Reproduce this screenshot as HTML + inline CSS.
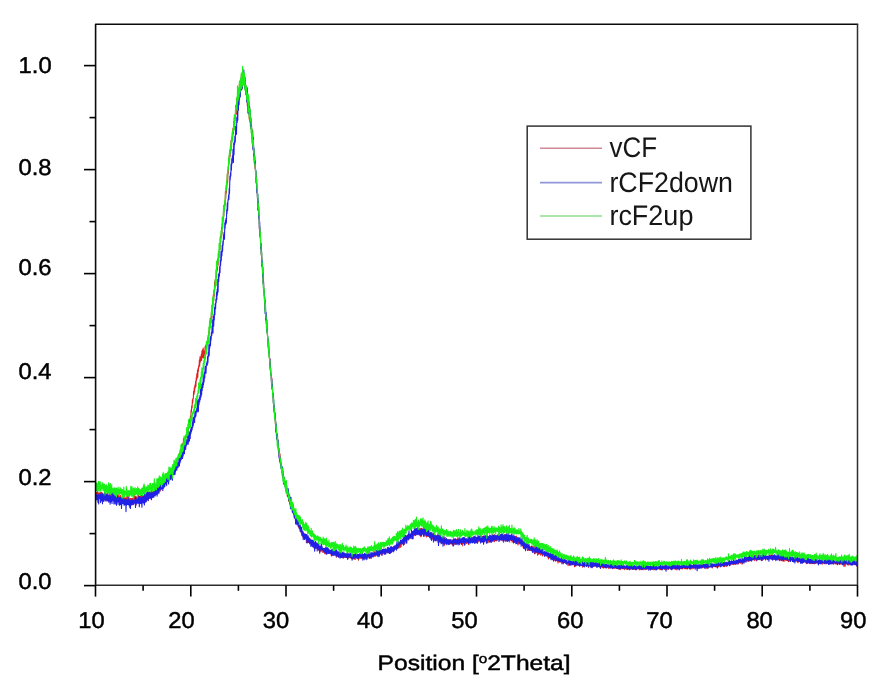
<!DOCTYPE html>
<html><head><meta charset="utf-8"><title>XRD pattern</title>
<style>
html,body{margin:0;padding:0;background:#fff;}
body{width:884px;height:686px;overflow:hidden;}
svg{display:block;text-rendering:geometricPrecision;}
text{font-family:"Liberation Sans",Arial,sans-serif;fill:#000;stroke:#000;stroke-width:0.45px;}
svg{filter:blur(0.6px);}
text.l,.lg text{fill:#161616;stroke:none;}
</style></head><body>
<svg width="884" height="686" viewBox="0 0 884 686">
<rect width="884" height="686" fill="#fff"/>

<g fill="none" stroke-width="1.1" stroke-linejoin="round">
<polyline stroke="#e02020" points="95.5,495.2 95.8,493.6 96.1,496.3 96.5,492.4 96.8,496.6 97.1,492.3 97.4,495.7 97.7,491.5 98.0,497.3 98.4,493.0 98.7,496.8 99.0,493.0 99.3,496.5 99.6,492.7 99.9,496.2 100.3,492.6 100.6,499.1 100.9,494.8 101.2,499.8 101.5,492.2 101.9,500.1 102.2,492.8 102.5,499.0 102.8,493.8 103.1,497.7 103.4,494.2 103.8,501.0 104.1,493.7 104.4,497.0 104.7,494.4 105.0,499.7 105.3,493.4 105.7,498.7 106.0,493.9 106.3,500.0 106.6,494.0 106.9,497.4 107.3,494.2 107.6,498.9 107.9,496.0 108.2,498.2 108.5,495.3 108.8,500.0 109.2,495.6 109.5,500.4 109.8,493.0 110.1,499.1 110.4,494.7 110.7,498.9 111.1,491.4 111.4,499.6 111.7,494.0 112.0,497.6 112.3,495.7 112.7,499.3 113.0,495.3 113.3,499.6 113.6,496.4 113.9,500.8 114.2,496.1 114.6,499.5 114.9,496.3 115.2,499.7 115.5,494.5 115.8,499.9 116.1,496.3 116.5,500.5 116.8,495.1 117.1,501.0 117.4,495.3 117.7,500.8 118.1,493.7 118.4,500.5 118.7,496.4 119.0,501.6 119.3,496.2 119.6,500.5 120.0,497.0 120.3,501.0 120.6,495.3 120.9,501.0 121.2,497.8 121.5,501.4 121.9,498.0 122.2,501.5 122.5,496.8 122.8,500.9 123.1,498.0 123.5,503.4 123.8,498.3 124.1,501.6 124.4,498.1 124.7,502.3 125.0,497.4 125.4,502.0 125.7,498.4 126.0,502.9 126.3,499.6 126.6,504.8 126.9,495.3 127.3,502.2 127.6,497.7 127.9,503.2 128.2,496.0 128.5,502.7 128.9,499.1 129.2,502.2 129.5,500.0 129.8,501.7 130.1,498.4 130.4,503.2 130.8,498.7 131.1,503.5 131.4,498.5 131.7,501.9 132.0,498.5 132.3,501.1 132.7,498.5 133.0,502.9 133.3,500.2 133.6,501.7 133.9,498.0 134.3,501.9 134.6,495.6 134.9,502.8 135.2,498.6 135.5,504.5 135.8,496.3 136.2,504.9 136.5,497.0 136.8,501.8 137.1,497.1 137.4,499.8 137.7,494.7 138.1,502.2 138.4,495.1 138.7,500.2 139.0,498.0 139.3,499.9 139.7,496.2 140.0,502.0 140.3,496.0 140.6,499.7 140.9,495.4 141.2,501.0 141.6,495.1 141.9,501.5 142.2,496.1 142.5,500.8 142.8,496.4 143.1,500.4 143.5,495.9 143.8,499.1 144.1,496.8 144.4,499.3 144.7,495.3 145.1,501.2 145.4,494.3 145.7,500.7 146.0,494.5 146.3,499.1 146.6,494.6 147.0,499.8 147.3,493.2 147.6,498.2 147.9,493.6 148.2,500.8 148.5,493.2 148.9,496.7 149.2,494.6 149.5,497.7 149.8,494.4 150.1,497.0 150.5,492.8 150.8,498.3 151.1,490.9 151.4,497.6 151.7,490.6 152.0,495.9 152.4,493.0 152.7,495.7 153.0,491.8 153.3,496.0 153.6,491.2 153.9,494.3 154.3,490.8 154.6,495.0 154.9,490.0 155.2,493.3 155.5,488.4 155.9,494.6 156.2,487.7 156.5,492.6 156.8,488.9 157.1,491.5 157.4,486.1 157.8,491.0 158.1,486.9 158.4,489.5 158.7,484.4 159.0,491.4 159.3,485.2 159.7,488.4 160.0,484.0 160.3,491.0 160.6,482.8 160.9,488.6 161.2,480.8 161.6,488.2 161.9,482.5 162.2,485.7 162.5,481.3 162.8,488.1 163.2,478.7 163.5,485.0 163.8,481.0 164.1,483.8 164.4,480.7 164.7,483.5 165.1,477.3 165.4,481.9 165.7,477.1 166.0,484.0 166.3,476.6 166.6,479.9 167.0,476.9 167.3,480.9 167.6,475.8 167.9,479.3 168.2,473.2 168.6,477.7 168.9,473.6 169.2,478.1 169.5,473.7 169.8,478.9 170.1,470.9 170.5,475.9 170.8,471.3 171.1,475.1 171.4,468.7 171.7,474.0 172.0,469.2 172.4,472.9 172.7,469.3 173.0,471.9 173.3,465.5 173.6,469.0 174.0,463.7 174.3,470.4 174.6,462.4 174.9,473.2 175.2,463.4 175.5,467.7 175.9,463.4 176.2,466.5 176.5,459.7 176.8,464.7 177.1,459.9 177.4,461.2 177.8,458.3 178.1,458.8 178.4,455.3 178.7,459.8 179.0,454.2 179.4,457.9 179.7,452.7 180.0,456.1 180.3,449.7 180.6,454.1 180.9,449.7 181.3,450.2 181.6,445.0 181.9,452.5 182.2,443.3 182.5,448.5 182.8,444.6 183.2,446.7 183.5,438.3 183.8,443.9 184.1,440.7 184.4,441.9 184.8,437.3 185.1,440.7 185.4,437.2 185.7,441.2 186.0,435.1 186.3,436.7 186.7,431.0 187.0,436.8 187.3,431.9 187.6,437.4 187.9,427.9 188.2,432.5 188.6,426.0 188.9,428.1 189.2,424.7 189.5,424.8 189.8,419.1 190.2,419.5 190.5,415.7 190.8,417.5 191.1,409.9 191.4,411.9 191.7,405.9 192.1,407.9 192.4,399.8 192.7,402.9 193.0,398.2 193.3,398.7 193.6,391.3 194.0,394.5 194.3,387.5 194.6,391.9 194.9,385.1 195.2,387.9 195.6,381.4 195.9,386.5 196.2,377.7 196.5,380.6 196.8,373.9 197.1,378.4 197.5,370.4 197.8,377.1 198.1,368.0 198.4,371.3 198.7,365.8 199.0,367.3 199.4,359.9 199.7,366.0 200.0,356.8 200.3,362.2 200.6,357.1 201.0,360.6 201.3,354.2 201.6,360.2 201.9,351.0 202.2,357.5 202.5,349.9 202.9,357.6 203.2,348.0 203.5,354.1 203.8,351.0 204.1,358.5 204.4,350.8 204.8,354.4 205.1,346.6 205.4,351.7 205.7,345.3 206.0,352.2 206.4,344.4 206.7,349.6 207.0,342.2 207.3,344.8 207.6,338.6 207.9,339.5 208.3,335.0 208.6,336.7 208.9,331.5 209.2,332.8 209.5,326.7 209.8,328.5 210.2,318.6 210.5,324.9 210.8,317.8 211.1,323.0 211.4,312.4 211.8,317.7 212.1,305.0 212.4,312.0 212.7,301.1 213.0,304.6 213.3,294.7 213.7,300.2 214.0,290.5 214.3,295.9 214.6,281.7 214.9,288.0 215.2,279.9 215.6,285.7 215.9,276.6 216.2,277.3 216.5,269.3 216.8,271.5 217.2,262.4 217.5,270.0 217.8,258.7 218.1,265.0 218.4,253.8 218.7,258.3 219.1,250.8 219.4,253.4 219.7,243.9 220.0,249.6 220.3,236.6 220.6,241.9 221.0,234.5 221.3,237.2 221.6,227.3 221.9,234.7 222.2,223.6 222.6,226.5 222.9,219.4 223.2,220.4 223.5,211.6 223.8,215.8 224.1,205.1 224.5,210.7 224.8,201.5 225.1,205.4 225.4,191.3 225.7,198.6 226.0,188.1 226.4,193.0 226.7,182.8 227.0,184.5 227.3,173.9 227.6,182.6 228.0,169.9 228.3,173.4 228.6,162.2 228.9,164.0 229.2,155.9 229.5,160.2 229.9,150.0 230.2,156.1 230.5,145.1 230.8,148.4 231.1,140.2 231.4,144.8 231.8,138.3 232.1,139.3 232.4,132.3 232.7,136.4 233.0,128.0 233.4,133.7 233.7,121.3 234.0,127.5 234.3,117.5 234.6,127.6 234.9,116.3 235.3,119.3 235.6,106.0 235.9,114.0 236.2,105.0 236.5,114.1 236.8,98.8 237.2,105.1 237.5,95.9 237.8,101.3 238.1,90.7 238.4,97.3 238.8,88.8 239.1,93.1 239.4,83.8 239.7,91.4 240.0,85.5 240.3,90.6 240.7,81.5 241.0,86.2 241.3,74.9 241.6,87.6 241.9,76.5 242.2,88.8 242.6,78.5 242.9,84.5 243.2,71.7 243.5,83.3 243.8,76.8 244.2,85.1 244.5,79.6 244.8,87.6 245.1,79.9 245.4,90.8 245.7,84.5 246.1,94.7 246.4,88.8 246.7,100.6 247.0,88.3 247.3,105.5 247.6,97.2 248.0,104.5 248.3,101.2 248.6,108.2 248.9,105.9 249.2,119.0 249.6,107.8 249.9,121.7 250.2,112.0 250.5,126.8 250.8,117.4 251.1,129.1 251.5,125.1 251.8,134.6 252.1,131.2 252.4,142.9 252.7,130.3 253.0,148.3 253.4,140.8 253.7,155.5 254.0,150.6 254.3,160.1 254.6,155.2 255.0,168.6 255.3,162.3 255.6,176.0 255.9,172.4 256.2,183.3 256.5,178.1 256.9,189.6 257.2,190.4 257.5,198.2 257.8,198.1 258.1,210.4 258.4,208.3 258.8,214.7 259.1,214.1 259.4,229.5 259.7,226.3 260.0,236.9 260.4,236.1 260.7,246.8 261.0,244.0 261.3,255.0 261.6,253.1 261.9,265.6 262.3,264.3 262.6,272.6 262.9,272.5 263.2,283.3 263.5,280.8 263.8,291.8 264.2,290.8 264.5,299.1 264.8,299.7 265.1,310.4 265.4,308.1 265.8,319.3 266.1,315.7 266.4,323.4 266.7,319.3 267.0,332.3 267.3,332.4 267.7,339.2 268.0,340.0 268.3,347.1 268.6,345.2 268.9,354.0 269.2,352.3 269.6,361.4 269.9,358.4 270.2,367.7 270.5,367.8 270.8,375.0 271.2,374.3 271.5,382.2 271.8,377.7 272.1,388.7 272.4,387.6 272.7,395.4 273.1,395.3 273.4,402.8 273.7,403.3 274.0,409.8 274.3,409.0 274.6,415.4 275.0,413.1 275.3,423.0 275.6,420.9 275.9,429.0 276.2,429.0 276.6,437.2 276.9,433.7 277.2,440.3 277.5,435.1 277.8,445.0 278.1,443.5 278.5,452.2 278.8,448.0 279.1,456.6 279.4,453.3 279.7,457.8 280.0,453.9 280.4,464.3 280.7,462.0 281.0,466.3 281.3,463.3 281.6,471.0 282.0,468.8 282.3,472.7 282.6,472.3 282.9,477.6 283.2,473.7 283.5,479.0 283.9,477.2 284.2,482.8 284.5,478.4 284.8,484.8 285.1,483.8 285.4,486.6 285.8,482.8 286.1,491.7 286.4,486.7 286.7,490.8 287.0,488.3 287.3,496.1 287.7,490.4 288.0,495.1 288.3,491.9 288.6,501.2 288.9,496.0 289.3,501.5 289.6,498.0 289.9,503.5 290.2,501.1 290.5,506.0 290.8,497.4 291.2,505.7 291.5,504.6 291.8,508.7 292.1,503.8 292.4,512.1 292.7,508.1 293.1,512.2 293.4,509.9 293.7,513.3 294.0,512.7 294.3,518.0 294.7,510.4 295.0,517.0 295.3,515.8 295.6,519.5 295.9,513.9 296.2,519.8 296.6,515.9 296.9,523.4 297.2,520.0 297.5,523.7 297.8,520.4 298.1,526.4 298.5,520.6 298.8,527.4 299.1,524.4 299.4,528.6 299.7,523.5 300.1,531.5 300.4,527.2 300.7,530.7 301.0,529.2 301.3,533.2 301.6,530.7 302.0,535.0 302.3,531.0 302.6,536.1 302.9,533.1 303.2,536.9 303.5,534.3 303.9,535.9 304.2,533.7 304.5,537.3 304.8,534.8 305.1,538.5 305.5,536.3 305.8,538.8 306.1,536.1 306.4,542.4 306.7,534.8 307.0,539.8 307.4,538.2 307.7,542.8 308.0,538.9 308.3,542.2 308.6,539.4 308.9,542.5 309.3,539.3 309.6,543.9 309.9,538.4 310.2,543.6 310.5,540.0 310.9,543.1 311.2,541.2 311.5,544.4 311.8,542.1 312.1,545.2 312.4,541.7 312.8,545.9 313.1,542.0 313.4,547.8 313.7,544.3 314.0,546.8 314.3,543.7 314.7,545.3 315.0,543.8 315.3,548.7 315.6,544.6 315.9,546.9 316.3,543.1 316.6,548.5 316.9,546.2 317.2,547.7 317.5,543.8 317.8,548.2 318.2,546.6 318.5,549.9 318.8,546.1 319.1,549.9 319.4,547.0 319.7,551.6 320.1,546.0 320.4,550.4 320.7,547.2 321.0,551.7 321.3,547.1 321.7,550.6 322.0,548.4 322.3,551.0 322.6,548.4 322.9,552.5 323.2,548.8 323.6,551.5 323.9,548.8 324.2,552.4 324.5,549.4 324.8,553.8 325.1,548.0 325.5,551.5 325.8,549.1 326.1,554.3 326.4,550.3 326.7,554.0 327.1,549.5 327.4,553.2 327.7,550.7 328.0,552.5 328.3,549.5 328.6,552.6 329.0,549.4 329.3,553.3 329.6,551.2 329.9,552.8 330.2,551.2 330.5,553.7 330.9,551.2 331.2,555.1 331.5,552.3 331.8,555.8 332.1,549.9 332.5,555.1 332.8,551.4 333.1,554.7 333.4,551.1 333.7,553.9 334.0,552.7 334.4,554.3 334.7,552.3 335.0,554.4 335.3,553.2 335.6,555.8 335.9,553.3 336.3,557.2 336.6,553.6 336.9,555.4 337.2,553.2 337.5,555.5 337.9,552.4 338.2,555.3 338.5,552.5 338.8,555.6 339.1,554.2 339.4,556.9 339.8,554.0 340.1,555.5 340.4,553.7 340.7,557.2 341.0,552.1 341.3,556.6 341.7,554.0 342.0,557.1 342.3,554.3 342.6,557.7 342.9,553.1 343.3,556.6 343.6,554.7 343.9,556.8 344.2,554.8 344.5,557.4 344.8,553.4 345.2,557.1 345.5,553.9 345.8,557.4 346.1,555.1 346.4,557.2 346.7,554.1 347.1,556.8 347.4,554.1 347.7,558.5 348.0,554.7 348.3,558.2 348.7,555.1 349.0,557.3 349.3,554.0 349.6,557.8 349.9,555.9 350.2,558.0 350.6,556.6 350.9,557.6 351.2,556.3 351.5,558.7 351.8,555.7 352.1,557.8 352.5,555.6 352.8,559.3 353.1,556.1 353.4,557.7 353.7,556.3 354.1,559.1 354.4,554.6 354.7,557.6 355.0,555.4 355.3,559.4 355.6,555.9 356.0,557.3 356.3,555.4 356.6,557.3 356.9,555.6 357.2,558.1 357.5,554.9 357.9,557.5 358.2,555.4 358.5,560.3 358.8,554.9 359.1,558.3 359.5,555.2 359.8,557.9 360.1,554.7 360.4,557.9 360.7,556.5 361.0,558.8 361.4,555.2 361.7,557.5 362.0,553.7 362.3,558.6 362.6,555.6 362.9,556.9 363.3,555.8 363.6,559.3 363.9,555.4 364.2,558.1 364.5,555.0 364.9,556.7 365.2,554.6 365.5,558.0 365.8,555.4 366.1,558.0 366.4,555.1 366.8,558.2 367.1,555.7 367.4,558.1 367.7,554.7 368.0,557.8 368.3,554.4 368.7,556.4 369.0,552.0 369.3,557.3 369.6,554.5 369.9,556.3 370.3,554.5 370.6,558.0 370.9,554.2 371.2,557.8 371.5,554.9 371.8,556.4 372.2,554.6 372.5,556.7 372.8,554.0 373.1,556.7 373.4,553.1 373.7,556.9 374.1,551.3 374.4,556.3 374.7,553.4 375.0,555.6 375.3,551.6 375.7,556.2 376.0,553.1 376.3,554.7 376.6,552.0 376.9,554.7 377.2,552.3 377.6,554.8 377.9,553.0 378.2,554.1 378.5,550.8 378.8,553.7 379.1,551.0 379.5,555.1 379.8,551.9 380.1,554.2 380.4,550.5 380.7,552.6 381.1,550.2 381.4,553.9 381.7,548.9 382.0,555.1 382.3,550.9 382.6,553.4 383.0,551.7 383.3,552.4 383.6,549.1 383.9,554.0 384.2,549.6 384.5,552.3 384.9,549.5 385.2,553.1 385.5,549.6 385.8,552.6 386.1,550.0 386.5,552.2 386.8,550.1 387.1,552.6 387.4,548.4 387.7,552.9 388.0,549.7 388.4,552.0 388.7,550.4 389.0,552.9 389.3,550.1 389.6,552.4 389.9,550.0 390.3,552.8 390.6,548.0 390.9,552.4 391.2,548.6 391.5,552.4 391.9,547.6 392.2,550.4 392.5,547.5 392.8,550.8 393.1,546.9 393.4,551.9 393.8,547.7 394.1,549.8 394.4,547.2 394.7,549.7 395.0,546.6 395.3,549.2 395.7,545.7 396.0,548.5 396.3,546.5 396.6,547.1 396.9,545.0 397.3,547.6 397.6,544.6 397.9,546.4 398.2,543.5 398.5,547.7 398.8,543.4 399.2,548.0 399.5,542.7 399.8,546.0 400.1,542.8 400.4,547.3 400.7,540.6 401.1,546.7 401.4,540.9 401.7,543.8 402.0,540.4 402.3,544.0 402.7,540.9 403.0,543.1 403.3,539.4 403.6,542.6 403.9,539.5 404.2,544.5 404.6,538.9 404.9,542.3 405.2,538.2 405.5,540.9 405.8,537.3 406.1,540.3 406.5,536.8 406.8,540.3 407.1,535.5 407.4,538.6 407.7,536.5 408.1,539.9 408.4,536.7 408.7,539.4 409.0,536.4 409.3,537.1 409.6,534.9 410.0,538.4 410.3,534.6 410.6,536.9 410.9,534.8 411.2,535.4 411.5,533.0 411.9,536.7 412.2,533.8 412.5,535.3 412.8,531.9 413.1,535.0 413.4,533.4 413.8,535.0 414.1,530.0 414.4,535.0 414.7,529.3 415.0,535.7 415.4,531.8 415.7,534.6 416.0,532.0 416.3,533.8 416.6,532.0 416.9,533.9 417.3,529.1 417.6,534.5 417.9,528.3 418.2,533.8 418.5,530.0 418.8,533.8 419.2,531.5 419.5,532.8 419.8,528.4 420.1,535.5 420.4,529.1 420.8,536.7 421.1,528.4 421.4,535.3 421.7,529.6 422.0,533.3 422.3,528.7 422.7,533.6 423.0,531.5 423.3,532.8 423.6,529.9 423.9,536.4 424.2,532.0 424.6,533.6 424.9,529.5 425.2,535.3 425.5,531.8 425.8,535.9 426.2,532.5 426.5,536.9 426.8,529.6 427.1,535.8 427.4,532.5 427.7,534.7 428.1,531.9 428.4,536.5 428.7,531.6 429.0,535.3 429.3,530.5 429.6,537.7 430.0,532.8 430.3,537.4 430.6,534.0 430.9,537.9 431.2,533.9 431.6,537.5 431.9,533.9 432.2,538.3 432.5,535.6 432.8,539.2 433.1,533.6 433.5,539.0 433.8,533.1 434.1,539.6 434.4,535.9 434.7,539.8 435.0,534.7 435.4,540.4 435.7,535.4 436.0,540.6 436.3,536.1 436.6,540.3 437.0,535.9 437.3,539.0 437.6,536.0 437.9,542.3 438.2,535.3 438.5,541.3 438.9,538.8 439.2,540.6 439.5,538.9 439.8,541.3 440.1,538.7 440.4,542.4 440.8,535.7 441.1,540.9 441.4,538.1 441.7,541.8 442.0,539.7 442.4,543.2 442.7,539.4 443.0,542.6 443.3,539.9 443.6,542.7 443.9,537.8 444.3,545.4 444.6,538.1 444.9,542.6 445.2,537.2 445.5,543.3 445.8,540.9 446.2,543.4 446.5,540.1 446.8,542.7 447.1,539.5 447.4,543.7 447.8,540.5 448.1,542.6 448.4,539.8 448.7,543.2 449.0,540.0 449.3,543.1 449.7,539.8 450.0,543.9 450.3,540.4 450.6,543.6 450.9,542.4 451.2,543.4 451.6,541.5 451.9,544.3 452.2,539.8 452.5,545.1 452.8,541.9 453.2,543.9 453.5,541.2 453.8,544.7 454.1,541.9 454.4,543.6 454.7,539.7 455.1,543.6 455.4,538.8 455.7,544.3 456.0,539.0 456.3,542.7 456.6,539.5 457.0,543.9 457.3,539.6 457.6,543.6 457.9,538.9 458.2,543.5 458.6,541.3 458.9,543.8 459.2,537.0 459.5,544.4 459.8,541.0 460.1,543.0 460.5,540.0 460.8,543.1 461.1,539.8 461.4,542.5 461.7,539.6 462.0,542.1 462.4,540.5 462.7,545.7 463.0,539.2 463.3,541.9 463.6,540.3 464.0,543.3 464.3,539.2 464.6,543.4 464.9,539.3 465.2,544.2 465.5,538.6 465.9,542.5 466.2,540.9 466.5,543.5 466.8,540.1 467.1,542.2 467.4,539.6 467.8,542.5 468.1,539.9 468.4,544.5 468.7,538.6 469.0,544.1 469.4,537.0 469.7,541.7 470.0,539.5 470.3,541.6 470.6,539.0 470.9,540.6 471.3,539.6 471.6,542.2 471.9,536.8 472.2,540.8 472.5,538.2 472.8,542.2 473.2,539.0 473.5,542.0 473.8,538.0 474.1,541.3 474.4,539.0 474.8,542.3 475.1,537.1 475.4,542.3 475.7,538.8 476.0,540.8 476.3,537.8 476.7,542.2 477.0,537.7 477.3,541.1 477.6,537.8 477.9,542.4 478.2,536.5 478.6,539.8 478.9,536.9 479.2,541.5 479.5,537.9 479.8,540.4 480.2,537.4 480.5,540.3 480.8,538.0 481.1,540.7 481.4,536.4 481.7,539.2 482.1,536.3 482.4,540.7 482.7,536.3 483.0,542.2 483.3,536.4 483.6,540.5 484.0,536.0 484.3,541.8 484.6,537.1 484.9,541.1 485.2,537.1 485.6,540.2 485.9,538.6 486.2,541.0 486.5,536.9 486.8,542.2 487.1,536.5 487.5,542.5 487.8,537.7 488.1,542.6 488.4,538.1 488.7,540.7 489.0,537.6 489.4,541.7 489.7,538.3 490.0,541.6 490.3,536.4 490.6,541.1 491.0,536.8 491.3,541.4 491.6,536.5 491.9,540.2 492.2,534.4 492.5,540.0 492.9,537.1 493.2,541.2 493.5,538.2 493.8,541.0 494.1,536.8 494.4,541.6 494.8,534.5 495.1,540.8 495.4,535.9 495.7,539.3 496.0,537.4 496.4,540.9 496.7,535.9 497.0,540.5 497.3,536.1 497.6,539.9 497.9,536.2 498.3,539.3 498.6,537.1 498.9,539.5 499.2,534.1 499.5,540.7 499.8,535.6 500.2,538.9 500.5,536.9 500.8,539.8 501.1,535.6 501.4,540.5 501.8,535.7 502.1,539.7 502.4,536.3 502.7,540.5 503.0,536.5 503.3,540.5 503.7,536.7 504.0,539.7 504.3,534.6 504.6,538.1 504.9,535.4 505.2,540.6 505.6,534.4 505.9,541.0 506.2,536.2 506.5,540.7 506.8,536.4 507.2,540.9 507.5,535.5 507.8,539.0 508.1,537.4 508.4,538.7 508.7,536.7 509.1,540.2 509.4,537.1 509.7,541.9 510.0,535.2 510.3,540.0 510.6,537.1 511.0,539.9 511.3,536.9 511.6,539.2 511.9,536.6 512.2,542.2 512.6,537.2 512.9,541.2 513.2,538.3 513.5,540.4 513.8,534.8 514.1,541.6 514.5,538.4 514.8,542.5 515.1,538.0 515.4,541.3 515.7,536.6 516.0,543.0 516.4,536.1 516.7,541.4 517.0,538.8 517.3,543.8 517.6,537.8 518.0,545.0 518.3,539.3 518.6,543.1 518.9,539.4 519.2,543.1 519.5,537.8 519.9,544.2 520.2,540.9 520.5,542.8 520.8,540.6 521.1,543.7 521.4,541.3 521.8,545.0 522.1,540.8 522.4,545.5 522.7,541.9 523.0,547.2 523.4,542.7 523.7,545.7 524.0,541.5 524.3,548.3 524.6,542.8 524.9,547.1 525.3,545.4 525.6,549.6 525.9,543.6 526.2,547.4 526.5,545.1 526.8,547.8 527.2,546.2 527.5,550.4 527.8,545.9 528.1,550.5 528.4,545.8 528.8,549.4 529.1,546.6 529.4,550.5 529.7,546.3 530.0,549.7 530.3,546.8 530.7,550.4 531.0,547.5 531.3,550.5 531.6,546.0 531.9,550.7 532.2,548.2 532.6,549.9 532.9,546.0 533.2,550.7 533.5,548.5 533.8,552.4 534.2,546.5 534.5,553.7 534.8,548.3 535.1,552.0 535.4,548.0 535.7,552.1 536.1,549.9 536.4,552.6 536.7,548.8 537.0,552.6 537.3,547.0 537.6,555.3 538.0,549.8 538.3,554.5 538.6,550.0 538.9,553.7 539.2,549.0 539.6,553.8 539.9,551.7 540.2,554.2 540.5,551.6 540.8,555.3 541.1,549.0 541.5,553.6 541.8,550.7 542.1,553.5 542.4,552.0 542.7,556.0 543.0,551.1 543.4,553.4 543.7,551.6 544.0,554.8 544.3,552.4 544.6,555.9 544.9,552.1 545.3,554.8 545.6,551.4 545.9,555.1 546.2,552.1 546.5,556.0 546.9,553.5 547.2,556.3 547.5,552.8 547.8,557.2 548.1,553.4 548.4,559.0 548.8,554.3 549.1,557.3 549.4,554.7 549.7,556.9 550.0,554.7 550.3,557.9 550.7,555.7 551.0,558.2 551.3,555.5 551.6,558.0 551.9,554.2 552.3,558.3 552.6,555.7 552.9,558.9 553.2,556.5 553.5,558.7 553.8,556.9 554.2,560.0 554.5,556.8 554.8,560.1 555.1,557.0 555.4,561.3 555.7,557.1 556.1,559.3 556.4,556.7 556.7,560.8 557.0,556.8 557.3,560.9 557.7,556.0 558.0,562.9 558.3,557.9 558.6,561.7 558.9,559.1 559.2,561.1 559.6,559.6 559.9,562.3 560.2,559.2 560.5,561.1 560.8,559.6 561.1,562.3 561.5,560.3 561.8,563.6 562.1,559.7 562.4,562.1 562.7,559.1 563.1,563.2 563.4,559.9 563.7,562.8 564.0,560.5 564.3,562.3 564.6,560.2 565.0,562.6 565.3,561.4 565.6,563.0 565.9,560.7 566.2,563.5 566.5,561.8 566.9,563.8 567.2,562.1 567.5,563.1 567.8,561.1 568.1,565.6 568.5,561.5 568.8,563.9 569.1,562.0 569.4,564.8 569.7,561.6 570.0,564.6 570.4,562.6 570.7,564.4 571.0,562.3 571.3,563.9 571.6,562.9 571.9,564.9 572.3,562.3 572.6,564.6 572.9,561.6 573.2,564.7 573.5,561.8 573.9,564.2 574.2,563.0 574.5,566.8 574.8,562.5 575.1,565.3 575.4,561.8 575.8,565.2 576.1,562.6 576.4,565.3 576.7,563.1 577.0,564.7 577.3,562.7 577.7,565.5 578.0,562.9 578.3,565.0 578.6,563.4 578.9,565.5 579.3,562.8 579.6,566.5 579.9,562.7 580.2,565.3 580.5,563.6 580.8,565.2 581.2,563.0 581.5,565.5 581.8,562.1 582.1,565.4 582.4,560.8 582.7,567.1 583.1,563.1 583.4,565.3 583.7,563.7 584.0,566.5 584.3,562.4 584.7,565.2 585.0,563.2 585.3,565.1 585.6,563.7 585.9,565.3 586.2,563.5 586.6,566.5 586.9,563.5 587.2,565.9 587.5,563.1 587.8,565.7 588.1,564.2 588.5,567.5 588.8,564.6 589.1,566.3 589.4,563.8 589.7,566.0 590.1,563.4 590.4,566.4 590.7,562.8 591.0,564.9 591.3,562.7 591.6,565.8 592.0,563.3 592.3,565.3 592.6,563.4 592.9,566.5 593.2,564.5 593.5,565.5 593.9,564.3 594.2,566.4 594.5,563.1 594.8,565.5 595.1,563.2 595.5,565.8 595.8,564.1 596.1,566.0 596.4,564.8 596.7,566.3 597.0,564.8 597.4,567.3 597.7,563.7 598.0,566.3 598.3,564.4 598.6,566.7 598.9,563.6 599.3,566.4 599.6,565.3 599.9,567.8 600.2,564.3 600.5,566.1 600.9,564.7 601.2,566.7 601.5,564.8 601.8,566.3 602.1,565.4 602.4,567.8 602.8,565.3 603.1,566.5 603.4,565.1 603.7,568.1 604.0,565.5 604.3,566.3 604.7,565.8 605.0,567.5 605.3,564.9 605.6,567.7 605.9,565.3 606.3,567.9 606.6,565.3 606.9,567.2 607.2,565.1 607.5,567.1 607.8,565.8 608.2,566.8 608.5,565.2 608.8,568.7 609.1,565.4 609.4,567.9 609.7,565.4 610.1,567.5 610.4,565.2 610.7,567.4 611.0,565.7 611.3,567.5 611.7,566.3 612.0,568.3 612.3,566.5 612.6,568.8 612.9,566.1 613.2,567.8 613.6,566.5 613.9,568.4 614.2,566.5 614.5,568.3 614.8,566.1 615.1,568.0 615.5,566.0 615.8,568.2 616.1,566.8 616.4,568.5 616.7,566.0 617.1,568.4 617.4,565.3 617.7,568.2 618.0,566.5 618.3,568.9 618.6,566.8 619.0,568.5 619.3,567.1 619.6,569.5 619.9,567.1 620.2,569.7 620.5,567.3 620.9,568.8 621.2,566.3 621.5,568.3 621.8,567.5 622.1,568.4 622.5,565.6 622.8,569.0 623.1,567.3 623.4,568.7 623.7,567.4 624.0,568.0 624.4,567.4 624.7,569.8 625.0,567.0 625.3,568.5 625.6,567.2 625.9,568.7 626.3,566.8 626.6,569.2 626.9,567.3 627.2,569.5 627.5,567.0 627.9,569.1 628.2,566.9 628.5,568.6 628.8,566.6 629.1,569.4 629.4,566.1 629.8,569.6 630.1,566.9 630.4,568.9 630.7,567.6 631.0,568.6 631.3,566.0 631.7,568.8 632.0,566.2 632.3,569.1 632.6,567.4 632.9,569.5 633.3,567.1 633.6,569.4 633.9,567.7 634.2,569.3 634.5,566.9 634.8,569.0 635.2,566.9 635.5,569.1 635.8,567.4 636.1,570.0 636.4,567.1 636.7,569.2 637.1,567.2 637.4,568.7 637.7,567.0 638.0,569.0 638.3,566.6 638.7,568.7 639.0,566.9 639.3,569.6 639.6,568.0 639.9,569.9 640.2,567.4 640.6,568.7 640.9,566.8 641.2,568.9 641.5,566.9 641.8,569.8 642.1,567.3 642.5,569.1 642.8,567.5 643.1,570.0 643.4,568.0 643.7,569.0 644.1,567.4 644.4,568.7 644.7,566.0 645.0,569.5 645.3,567.3 645.6,569.6 646.0,566.0 646.3,569.3 646.6,567.5 646.9,569.2 647.2,567.0 647.5,569.1 647.9,566.3 648.2,568.8 648.5,567.2 648.8,568.6 649.1,567.2 649.5,569.4 649.8,566.5 650.1,569.0 650.4,566.5 650.7,569.7 651.0,566.7 651.4,569.2 651.7,566.5 652.0,569.3 652.3,567.7 652.6,569.5 652.9,566.8 653.3,568.9 653.6,566.7 653.9,570.0 654.2,567.5 654.5,569.0 654.9,567.0 655.2,569.9 655.5,567.4 655.8,569.4 656.1,567.1 656.4,569.3 656.8,567.7 657.1,568.6 657.4,566.8 657.7,568.9 658.0,566.9 658.3,568.6 658.7,567.0 659.0,568.9 659.3,567.8 659.6,569.2 659.9,567.2 660.3,569.8 660.6,567.5 660.9,569.5 661.2,567.2 661.5,569.0 661.8,567.2 662.2,569.6 662.5,567.0 662.8,569.3 663.1,566.4 663.4,569.0 663.7,567.2 664.1,568.5 664.4,566.4 664.7,569.5 665.0,566.9 665.3,568.5 665.7,567.1 666.0,569.8 666.3,567.0 666.6,569.2 666.9,566.7 667.2,568.6 667.6,567.3 667.9,569.8 668.2,565.9 668.5,569.1 668.8,567.3 669.1,568.4 669.5,566.0 669.8,568.8 670.1,566.6 670.4,569.0 670.7,566.0 671.0,568.5 671.4,566.6 671.7,569.5 672.0,567.3 672.3,568.4 672.6,565.5 673.0,568.5 673.3,566.8 673.6,568.7 673.9,566.4 674.2,569.1 674.5,565.8 674.9,568.5 675.2,567.0 675.5,568.1 675.8,567.2 676.1,568.7 676.4,566.6 676.8,569.9 677.1,566.8 677.4,568.1 677.7,566.2 678.0,568.1 678.4,565.7 678.7,568.0 679.0,567.1 679.3,568.6 679.6,565.5 679.9,569.1 680.3,566.9 680.6,568.5 680.9,567.1 681.2,568.4 681.5,565.9 681.8,568.8 682.2,566.5 682.5,568.9 682.8,565.8 683.1,567.8 683.4,565.8 683.8,567.8 684.1,565.9 684.4,568.6 684.7,566.1 685.0,567.9 685.3,566.4 685.7,567.9 686.0,566.4 686.3,568.6 686.6,566.8 686.9,569.0 687.2,566.7 687.6,568.8 687.9,566.6 688.2,567.7 688.5,564.9 688.8,568.0 689.2,565.8 689.5,568.2 689.8,566.5 690.1,569.6 690.4,566.7 690.7,568.0 691.1,565.8 691.4,567.8 691.7,566.2 692.0,568.9 692.3,565.9 692.6,567.9 693.0,565.9 693.3,568.3 693.6,566.4 693.9,567.7 694.2,564.4 694.6,567.8 694.9,565.8 695.2,567.5 695.5,565.5 695.8,568.4 696.1,566.3 696.5,567.9 696.8,565.2 697.1,567.3 697.4,565.6 697.7,567.3 698.0,566.4 698.4,567.3 698.7,566.2 699.0,568.3 699.3,566.2 699.6,567.4 700.0,566.1 700.3,567.4 700.6,565.4 700.9,567.5 701.2,566.0 701.5,567.6 701.9,566.2 702.2,567.7 702.5,564.3 702.8,567.7 703.1,565.6 703.4,566.9 703.8,564.4 704.1,567.0 704.4,565.8 704.7,567.2 705.0,565.5 705.4,567.9 705.7,566.2 706.0,568.8 706.3,565.2 706.6,567.3 706.9,564.6 707.3,568.3 707.6,565.4 707.9,566.7 708.2,564.7 708.5,567.6 708.8,564.6 709.2,566.8 709.5,564.6 709.8,566.6 710.1,565.0 710.4,566.4 710.8,564.4 711.1,566.4 711.4,564.8 711.7,566.8 712.0,563.8 712.3,567.9 712.7,564.9 713.0,566.1 713.3,564.4 713.6,566.7 713.9,565.3 714.2,566.6 714.6,564.7 714.9,566.3 715.2,564.8 715.5,566.2 715.8,564.5 716.2,567.2 716.5,564.5 716.8,566.0 717.1,564.9 717.4,566.8 717.7,563.8 718.1,566.7 718.4,564.0 718.7,567.0 719.0,563.1 719.3,566.3 719.6,563.6 720.0,565.8 720.3,564.6 720.6,566.6 720.9,564.2 721.2,566.5 721.6,562.8 721.9,565.9 722.2,563.3 722.5,565.0 722.8,563.6 723.1,565.9 723.5,564.1 723.8,565.2 724.1,563.5 724.4,566.6 724.7,563.2 725.0,566.1 725.4,563.7 725.7,565.2 726.0,563.6 726.3,566.4 726.6,562.4 727.0,565.2 727.3,563.6 727.6,565.2 727.9,563.1 728.2,564.1 728.5,560.8 728.9,564.1 729.2,561.6 729.5,564.8 729.8,562.7 730.1,565.1 730.4,561.8 730.8,564.2 731.1,562.6 731.4,564.0 731.7,561.4 732.0,564.3 732.4,562.2 732.7,564.1 733.0,561.5 733.3,563.8 733.6,561.9 733.9,564.7 734.3,562.3 734.6,564.0 734.9,562.0 735.2,563.2 735.5,561.1 735.8,564.0 736.2,560.6 736.5,563.3 736.8,560.1 737.1,563.3 737.4,560.5 737.8,564.2 738.1,561.6 738.4,563.9 738.7,560.9 739.0,562.0 739.3,561.1 739.7,562.6 740.0,559.6 740.3,562.9 740.6,559.4 740.9,563.3 741.2,559.7 741.6,561.9 741.9,559.5 742.2,564.3 742.5,559.3 742.8,561.7 743.2,560.1 743.5,562.9 743.8,559.8 744.1,561.5 744.4,559.7 744.7,561.8 745.1,559.3 745.4,561.1 745.7,558.8 746.0,561.2 746.3,557.5 746.6,561.0 747.0,558.9 747.3,560.4 747.6,558.3 747.9,561.4 748.2,558.4 748.6,561.1 748.9,557.9 749.2,559.7 749.5,556.9 749.8,559.8 750.1,557.5 750.5,560.6 750.8,557.6 751.1,560.0 751.4,557.9 751.7,560.1 752.0,556.3 752.4,559.1 752.7,555.8 753.0,559.4 753.3,557.8 753.6,559.7 754.0,556.7 754.3,560.2 754.6,555.4 754.9,560.5 755.2,555.7 755.5,559.1 755.9,557.2 756.2,559.8 756.5,556.6 756.8,560.9 757.1,556.7 757.4,559.1 757.8,556.4 758.1,559.3 758.4,554.9 758.7,559.3 759.0,556.6 759.4,559.5 759.7,555.2 760.0,559.2 760.3,555.2 760.6,558.9 760.9,556.5 761.3,560.5 761.6,557.5 761.9,558.7 762.2,557.0 762.5,560.1 762.8,556.7 763.2,559.1 763.5,556.9 763.8,558.9 764.1,556.9 764.4,558.3 764.8,556.3 765.1,559.1 765.4,555.6 765.7,560.0 766.0,556.8 766.3,558.4 766.7,556.8 767.0,558.4 767.3,556.4 767.6,558.4 767.9,557.1 768.2,559.2 768.6,557.2 768.9,558.6 769.2,555.5 769.5,558.6 769.8,557.4 770.2,558.7 770.5,555.9 770.8,558.4 771.1,554.5 771.4,558.7 771.7,555.5 772.1,559.5 772.4,554.7 772.7,559.2 773.0,557.1 773.3,559.1 773.6,556.8 774.0,558.9 774.3,555.7 774.6,558.7 774.9,555.3 775.2,559.7 775.6,557.0 775.9,559.4 776.2,556.6 776.5,558.9 776.8,556.5 777.1,559.1 777.5,557.5 777.8,559.5 778.1,556.3 778.4,559.6 778.7,556.7 779.0,559.5 779.4,556.6 779.7,559.7 780.0,557.3 780.3,559.7 780.6,557.1 781.0,560.5 781.3,555.7 781.6,560.5 781.9,558.0 782.2,559.2 782.5,556.4 782.9,561.3 783.2,557.7 783.5,560.0 783.8,557.5 784.1,561.4 784.4,556.6 784.8,559.7 785.1,557.4 785.4,559.9 785.7,557.2 786.0,560.6 786.4,557.8 786.7,559.3 787.0,558.7 787.3,560.7 787.6,558.0 787.9,560.6 788.3,558.0 788.6,561.7 788.9,558.1 789.2,560.0 789.5,557.5 789.8,561.3 790.2,557.1 790.5,560.3 790.8,557.5 791.1,559.8 791.4,558.1 791.8,559.9 792.1,557.7 792.4,560.1 792.7,558.3 793.0,560.4 793.3,558.5 793.7,561.0 794.0,557.8 794.3,561.3 794.6,558.0 794.9,560.7 795.2,556.7 795.6,560.8 795.9,558.7 796.2,560.8 796.5,558.4 796.8,561.1 797.1,559.2 797.5,561.3 797.8,557.8 798.1,562.7 798.4,559.2 798.7,561.1 799.1,559.0 799.4,561.2 799.7,559.2 800.0,561.1 800.3,560.0 800.6,561.3 801.0,557.9 801.3,563.0 801.6,557.7 801.9,561.7 802.2,559.5 802.5,562.8 802.9,559.8 803.2,562.3 803.5,559.4 803.8,562.0 804.1,559.5 804.5,561.5 804.8,558.3 805.1,561.6 805.4,560.2 805.7,562.3 806.0,559.9 806.4,563.7 806.7,559.4 807.0,562.4 807.3,559.6 807.6,562.9 807.9,559.2 808.3,562.4 808.6,560.0 808.9,562.6 809.2,559.6 809.5,563.2 809.9,559.5 810.2,563.6 810.5,561.1 810.8,562.7 811.1,560.4 811.4,563.4 811.8,560.1 812.1,563.6 812.4,561.9 812.7,563.2 813.0,561.1 813.3,562.2 813.7,560.6 814.0,563.4 814.3,560.1 814.6,563.8 814.9,559.1 815.3,563.4 815.6,560.4 815.9,562.7 816.2,561.1 816.5,562.3 816.8,560.0 817.2,563.5 817.5,561.5 817.8,562.8 818.1,560.5 818.4,562.7 818.7,561.3 819.1,563.1 819.4,561.5 819.7,563.2 820.0,561.7 820.3,562.6 820.7,560.8 821.0,563.3 821.3,561.3 821.6,562.8 821.9,560.2 822.2,564.3 822.6,561.5 822.9,562.8 823.2,561.6 823.5,563.0 823.8,561.8 824.1,563.5 824.5,561.4 824.8,563.7 825.1,560.7 825.4,563.8 825.7,560.9 826.1,563.6 826.4,560.7 826.7,563.6 827.0,561.2 827.3,563.2 827.6,561.2 828.0,563.3 828.3,561.7 828.6,563.2 828.9,561.7 829.2,563.1 829.5,558.5 829.9,562.4 830.2,559.5 830.5,563.3 830.8,560.9 831.1,563.4 831.5,561.4 831.8,562.7 832.1,561.6 832.4,563.6 832.7,561.1 833.0,563.6 833.4,560.4 833.7,562.6 834.0,561.2 834.3,563.3 834.6,561.6 834.9,562.9 835.3,561.4 835.6,563.9 835.9,561.4 836.2,563.6 836.5,560.7 836.9,564.3 837.2,561.9 837.5,563.6 837.8,560.4 838.1,563.9 838.4,561.8 838.8,563.4 839.1,559.7 839.4,563.6 839.7,561.6 840.0,563.6 840.3,561.0 840.7,564.3 841.0,561.8 841.3,563.5 841.6,561.6 841.9,564.1 842.3,561.1 842.6,563.1 842.9,561.1 843.2,564.2 843.5,561.2 843.8,566.1 844.2,561.6 844.5,564.2 844.8,561.4 845.1,566.5 845.4,561.7 845.7,564.0 846.1,561.7 846.4,563.7 846.7,561.8 847.0,563.4 847.3,561.8 847.7,564.9 848.0,562.0 848.3,563.4 848.6,561.5 848.9,565.1 849.2,561.1 849.6,564.2 849.9,561.3 850.2,563.7 850.5,562.6 850.8,563.3 851.1,562.8 851.5,564.0 851.8,562.6 852.1,564.5 852.4,562.7 852.7,564.1 853.1,562.9 853.4,564.1 853.7,561.8 854.0,564.2 854.3,562.6 854.6,564.7 855.0,560.9 855.3,564.6 855.6,562.1 855.9,564.1 856.2,562.4 856.5,565.9 856.9,562.3 857.2,564.1 857.5,562.5"/>
<polyline stroke="#2020e8" points="95.5,500.3 95.8,494.2 96.1,498.1 96.5,494.7 96.8,500.0 97.1,494.6 97.4,499.1 97.7,496.3 98.0,502.4 98.4,494.9 98.7,503.9 99.0,494.7 99.3,498.5 99.6,495.9 99.9,498.8 100.3,494.0 100.6,502.6 100.9,494.1 101.2,500.7 101.5,495.5 101.9,501.0 102.2,493.5 102.5,503.7 102.8,494.7 103.1,499.2 103.4,495.7 103.8,501.4 104.1,496.5 104.4,499.7 104.7,491.5 105.0,499.4 105.3,495.4 105.7,501.0 106.0,494.9 106.3,501.0 106.6,494.4 106.9,499.3 107.3,495.5 107.6,501.0 107.9,492.3 108.2,501.0 108.5,495.7 108.8,502.1 109.2,497.9 109.5,500.1 109.8,495.6 110.1,504.2 110.4,495.9 110.7,502.3 111.1,497.3 111.4,501.5 111.7,496.0 112.0,503.4 112.3,492.0 112.7,500.4 113.0,497.1 113.3,500.7 113.6,490.0 113.9,503.9 114.2,498.3 114.6,501.4 114.9,495.3 115.2,503.9 115.5,496.4 115.8,501.1 116.1,494.9 116.5,505.3 116.8,498.2 117.1,503.9 117.4,496.1 117.7,501.6 118.1,498.1 118.4,501.9 118.7,497.5 119.0,504.8 119.3,497.8 119.6,505.2 120.0,497.8 120.3,504.5 120.6,498.6 120.9,504.5 121.2,497.2 121.5,508.5 121.9,499.9 122.2,503.7 122.5,497.6 122.8,503.5 123.1,501.3 123.5,503.9 123.8,499.5 124.1,505.3 124.4,499.2 124.7,504.9 125.0,500.0 125.4,504.5 125.7,499.1 126.0,511.6 126.3,499.5 126.6,505.3 126.9,501.2 127.3,504.4 127.6,499.7 127.9,504.5 128.2,500.7 128.5,504.6 128.9,497.5 129.2,505.8 129.5,502.1 129.8,507.5 130.1,500.9 130.4,508.4 130.8,500.2 131.1,504.8 131.4,500.2 131.7,504.9 132.0,501.0 132.3,504.2 132.7,499.7 133.0,504.6 133.3,500.8 133.6,504.5 133.9,500.7 134.3,503.3 134.6,500.3 134.9,502.5 135.2,498.4 135.5,507.4 135.8,497.4 136.2,504.3 136.5,499.9 136.8,503.3 137.1,499.9 137.4,502.7 137.7,499.1 138.1,503.5 138.4,497.6 138.7,502.7 139.0,496.5 139.3,506.7 139.7,496.4 140.0,503.4 140.3,498.0 140.6,503.1 140.9,497.8 141.2,503.8 141.6,498.4 141.9,507.3 142.2,497.1 142.5,501.2 142.8,497.1 143.1,502.7 143.5,496.2 143.8,503.2 144.1,497.1 144.4,504.9 144.7,492.0 145.1,502.5 145.4,497.4 145.7,501.2 146.0,496.2 146.3,501.7 146.6,492.9 147.0,499.5 147.3,491.8 147.6,499.6 147.9,490.1 148.2,500.5 148.5,495.0 148.9,498.8 149.2,491.7 149.5,498.1 149.8,492.6 150.1,497.4 150.5,493.4 150.8,498.4 151.1,491.9 151.4,499.8 151.7,493.0 152.0,497.0 152.4,492.9 152.7,497.8 153.0,492.5 153.3,497.0 153.6,492.9 153.9,497.3 154.3,490.6 154.6,495.2 154.9,491.2 155.2,495.9 155.5,490.5 155.9,494.7 156.2,489.2 156.5,494.0 156.8,488.7 157.1,496.1 157.4,488.4 157.8,493.9 158.1,488.5 158.4,492.0 158.7,488.6 159.0,493.3 159.3,486.4 159.7,490.2 160.0,485.5 160.3,490.0 160.6,485.6 160.9,488.1 161.2,484.5 161.6,489.3 161.9,484.7 162.2,486.8 162.5,482.3 162.8,490.5 163.2,481.7 163.5,488.1 163.8,483.6 164.1,486.8 164.4,481.8 164.7,487.0 165.1,480.8 165.4,484.2 165.7,477.0 166.0,483.3 166.3,477.2 166.6,485.6 167.0,477.5 167.3,482.0 167.6,477.5 167.9,481.1 168.2,477.1 168.6,484.0 168.9,476.8 169.2,480.0 169.5,473.9 169.8,480.1 170.1,472.1 170.5,479.3 170.8,472.2 171.1,478.9 171.4,471.4 171.7,477.0 172.0,471.9 172.4,480.2 172.7,471.0 173.0,474.1 173.3,471.1 173.6,474.8 174.0,468.2 174.3,474.2 174.6,467.1 174.9,474.8 175.2,467.7 175.5,471.7 175.9,465.7 176.2,469.6 176.5,464.3 176.8,470.1 177.1,464.0 177.4,467.9 177.8,462.4 178.1,467.5 178.4,463.8 178.7,465.8 179.0,457.3 179.4,465.9 179.7,458.9 180.0,463.0 180.3,457.2 180.6,461.3 180.9,456.5 181.3,459.5 181.6,455.0 181.9,458.0 182.2,450.3 182.5,458.5 182.8,450.7 183.2,456.0 183.5,447.1 183.8,453.0 184.1,445.2 184.4,453.7 184.8,445.6 185.1,449.8 185.4,445.5 185.7,449.2 186.0,442.3 186.3,446.0 186.7,439.7 187.0,444.5 187.3,441.1 187.6,441.9 187.9,435.9 188.2,444.3 188.6,431.9 188.9,441.7 189.2,434.9 189.5,440.8 189.8,431.8 190.2,438.5 190.5,429.6 190.8,433.8 191.1,427.2 191.4,431.9 191.7,427.4 192.1,430.0 192.4,422.1 192.7,427.2 193.0,417.7 193.3,425.6 193.6,417.5 194.0,421.6 194.3,415.8 194.6,422.6 194.9,411.4 195.2,417.4 195.6,411.4 195.9,416.2 196.2,410.7 196.5,412.3 196.8,408.0 197.1,410.8 197.5,400.4 197.8,411.9 198.1,401.0 198.4,411.2 198.7,399.4 199.0,404.8 199.4,397.3 199.7,401.6 200.0,395.2 200.3,399.6 200.6,389.0 201.0,397.0 201.3,384.6 201.6,394.8 201.9,385.7 202.2,390.6 202.5,382.7 202.9,387.5 203.2,376.2 203.5,384.7 203.8,374.5 204.1,382.0 204.4,372.4 204.8,377.9 205.1,366.7 205.4,372.0 205.7,366.4 206.0,373.2 206.4,363.4 206.7,365.6 207.0,361.5 207.3,365.1 207.6,356.6 207.9,363.0 208.3,352.4 208.6,356.4 208.9,344.6 209.2,355.6 209.5,346.3 209.8,347.9 210.2,337.1 210.5,345.5 210.8,336.3 211.1,340.1 211.4,332.1 211.8,335.7 212.1,325.5 212.4,332.8 212.7,319.7 213.0,333.1 213.3,316.3 213.7,325.9 214.0,314.3 214.3,320.0 214.6,307.2 214.9,314.7 215.2,303.8 215.6,308.7 215.9,299.3 216.2,302.7 216.5,292.4 216.8,299.7 217.2,289.0 217.5,294.9 217.8,279.3 218.1,291.9 218.4,274.3 218.7,281.6 219.1,272.7 219.4,276.2 219.7,266.4 220.0,272.7 220.3,260.3 220.6,265.5 221.0,251.4 221.3,260.7 221.6,251.0 221.9,255.8 222.2,245.3 222.6,251.3 222.9,241.1 223.2,244.9 223.5,234.9 223.8,237.9 224.1,232.4 224.5,239.2 224.8,222.7 225.1,228.4 225.4,220.2 225.7,224.5 226.0,218.4 226.4,222.9 226.7,209.7 227.0,213.5 227.3,203.1 227.6,210.4 228.0,199.6 228.3,200.3 228.6,194.7 228.9,199.3 229.2,188.5 229.5,193.7 229.9,176.0 230.2,179.8 230.5,172.6 230.8,176.0 231.1,163.7 231.4,170.2 231.8,158.5 232.1,163.7 232.4,155.8 232.7,158.6 233.0,149.3 233.4,162.4 233.7,143.3 234.0,154.8 234.3,141.4 234.6,144.5 234.9,136.0 235.3,141.9 235.6,126.2 235.9,134.7 236.2,126.9 236.5,134.3 236.8,117.2 237.2,122.5 237.5,111.4 237.8,120.1 238.1,91.6 238.4,110.4 238.8,91.8 239.1,104.6 239.4,93.8 239.7,98.1 240.0,88.2 240.3,96.7 240.7,84.6 241.0,89.6 241.3,77.9 241.6,89.9 241.9,77.4 242.2,88.3 242.6,77.2 242.9,83.8 243.2,76.7 243.5,84.5 243.8,69.9 244.2,84.5 244.5,76.9 244.8,88.4 245.1,77.6 245.4,87.9 245.7,86.1 246.1,94.6 246.4,87.0 246.7,102.0 247.0,87.2 247.3,100.2 247.6,96.0 248.0,113.2 248.3,95.7 248.6,109.5 248.9,101.2 249.2,114.3 249.6,106.3 249.9,117.8 250.2,110.3 250.5,126.7 250.8,118.5 251.1,129.0 251.5,126.2 251.8,134.4 252.1,133.2 252.4,143.5 252.7,136.1 253.0,149.9 253.4,137.7 253.7,155.7 254.0,147.9 254.3,162.9 254.6,155.7 255.0,164.3 255.3,160.8 255.6,175.6 255.9,170.0 256.2,182.3 256.5,179.5 256.9,192.8 257.2,189.2 257.5,198.9 257.8,194.0 258.1,210.0 258.4,201.1 258.8,218.3 259.1,215.6 259.4,228.2 259.7,221.7 260.0,235.4 260.4,236.4 260.7,248.7 261.0,243.2 261.3,254.1 261.6,251.5 261.9,266.3 262.3,260.7 262.6,276.3 262.9,267.1 263.2,284.6 263.5,281.1 263.8,292.0 264.2,290.1 264.5,299.7 264.8,296.7 265.1,313.6 265.4,301.4 265.8,320.0 266.1,312.2 266.4,323.9 266.7,320.0 267.0,331.9 267.3,329.4 267.7,338.5 268.0,338.3 268.3,347.3 268.6,343.0 268.9,353.3 269.2,351.2 269.6,359.5 269.9,359.1 270.2,370.1 270.5,366.6 270.8,374.2 271.2,374.2 271.5,383.5 271.8,379.4 272.1,389.3 272.4,384.5 272.7,396.0 273.1,393.0 273.4,403.3 273.7,399.7 274.0,411.6 274.3,406.1 274.6,416.9 275.0,412.8 275.3,420.5 275.6,421.3 275.9,431.9 276.2,423.9 276.6,439.1 276.9,432.9 277.2,438.9 277.5,439.1 277.8,446.8 278.1,440.0 278.5,450.1 278.8,448.6 279.1,458.1 279.4,453.6 279.7,461.6 280.0,456.9 280.4,463.0 280.7,460.9 281.0,468.4 281.3,464.2 281.6,471.7 282.0,466.2 282.3,475.5 282.6,467.6 282.9,476.4 283.2,471.3 283.5,484.0 283.9,477.6 284.2,482.1 284.5,477.9 284.8,485.6 285.1,481.6 285.4,488.1 285.8,483.7 286.1,489.7 286.4,482.1 286.7,491.3 287.0,489.1 287.3,493.4 287.7,489.4 288.0,497.0 288.3,488.9 288.6,499.7 288.9,493.5 289.3,500.8 289.6,495.3 289.9,504.2 290.2,500.1 290.5,508.8 290.8,497.3 291.2,508.3 291.5,502.5 291.8,507.3 292.1,505.4 292.4,512.1 292.7,507.6 293.1,513.2 293.4,506.8 293.7,514.5 294.0,510.1 294.3,516.9 294.7,511.6 295.0,518.8 295.3,513.9 295.6,524.0 295.9,515.0 296.2,523.3 296.6,515.0 296.9,524.8 297.2,516.3 297.5,523.9 297.8,519.9 298.1,525.0 298.5,519.7 298.8,526.8 299.1,521.4 299.4,529.0 299.7,524.6 300.1,528.8 300.4,525.9 300.7,531.8 301.0,527.3 301.3,531.6 301.6,527.2 302.0,535.7 302.3,531.0 302.6,534.5 302.9,531.5 303.2,539.6 303.5,532.7 303.9,537.7 304.2,533.8 304.5,539.5 304.8,534.6 305.1,538.1 305.5,534.1 305.8,538.2 306.1,534.7 306.4,539.8 306.7,534.6 307.0,543.0 307.4,536.5 307.7,540.1 308.0,535.6 308.3,542.2 308.6,537.1 308.9,540.1 309.3,538.2 309.6,542.9 309.9,540.3 310.2,541.2 310.5,539.5 310.9,546.4 311.2,540.8 311.5,545.5 311.8,539.7 312.1,545.7 312.4,540.3 312.8,546.6 313.1,540.6 313.4,546.3 313.7,541.2 314.0,545.7 314.3,543.1 314.7,551.1 315.0,542.4 315.3,547.7 315.6,541.4 315.9,547.6 316.3,544.3 316.6,547.4 316.9,542.8 317.2,551.0 317.5,545.5 317.8,548.7 318.2,543.5 318.5,548.9 318.8,543.3 319.1,550.6 319.4,546.3 319.7,553.2 320.1,546.4 320.4,549.9 320.7,547.2 321.0,549.5 321.3,543.2 321.7,549.6 322.0,546.3 322.3,549.9 322.6,548.0 322.9,550.2 323.2,548.5 323.6,551.0 323.9,548.3 324.2,552.2 324.5,548.7 324.8,551.5 325.1,548.4 325.5,552.7 325.8,547.4 326.1,553.2 326.4,548.9 326.7,554.3 327.1,547.2 327.4,552.1 327.7,548.3 328.0,553.1 328.3,548.6 328.6,553.5 329.0,550.6 329.3,553.2 329.6,550.1 329.9,553.4 330.2,550.6 330.5,553.6 330.9,550.1 331.2,552.9 331.5,549.8 331.8,556.0 332.1,550.7 332.5,554.8 332.8,549.3 333.1,553.7 333.4,551.9 333.7,555.4 334.0,551.8 334.4,555.2 334.7,550.3 335.0,554.0 335.3,551.9 335.6,554.6 335.9,550.4 336.3,555.2 336.6,549.9 336.9,556.8 337.2,553.3 337.5,555.9 337.9,551.4 338.2,556.4 338.5,552.4 338.8,557.4 339.1,552.1 339.4,555.4 339.8,552.0 340.1,558.3 340.4,552.6 340.7,555.4 341.0,554.0 341.3,557.4 341.7,553.5 342.0,557.4 342.3,552.7 342.6,556.4 342.9,552.2 343.3,558.2 343.6,552.9 343.9,556.9 344.2,554.2 344.5,556.1 344.8,553.0 345.2,557.3 345.5,554.7 345.8,556.5 346.1,554.0 346.4,557.5 346.7,553.6 347.1,557.8 347.4,552.0 347.7,559.4 348.0,553.4 348.3,557.0 348.7,554.4 349.0,557.0 349.3,553.7 349.6,556.8 349.9,555.3 350.2,557.1 350.6,553.2 350.9,556.9 351.2,553.9 351.5,558.1 351.8,554.5 352.1,560.2 352.5,554.5 352.8,557.1 353.1,554.5 353.4,558.5 353.7,554.3 354.1,558.5 354.4,554.8 354.7,557.3 355.0,554.6 355.3,557.1 355.6,553.5 356.0,557.7 356.3,554.9 356.6,558.0 356.9,555.4 357.2,558.3 357.5,554.2 357.9,558.8 358.2,554.3 358.5,558.2 358.8,554.8 359.1,557.9 359.5,553.7 359.8,556.8 360.1,555.2 360.4,557.2 360.7,552.6 361.0,556.8 361.4,555.0 361.7,557.6 362.0,555.6 362.3,557.1 362.6,553.8 362.9,560.2 363.3,554.7 363.6,558.8 363.9,554.2 364.2,557.0 364.5,553.4 364.9,559.6 365.2,554.4 365.5,557.6 365.8,553.7 366.1,558.1 366.4,554.3 366.8,559.8 367.1,554.7 367.4,556.2 367.7,553.7 368.0,556.5 368.3,554.3 368.7,556.2 369.0,554.0 369.3,558.4 369.6,553.8 369.9,558.0 370.3,554.9 370.6,556.4 370.9,552.6 371.2,558.3 371.5,552.7 371.8,556.6 372.2,553.5 372.5,556.6 372.8,552.6 373.1,555.4 373.4,553.0 373.7,555.6 374.1,553.4 374.4,555.2 374.7,552.5 375.0,554.9 375.3,552.5 375.7,555.4 376.0,550.1 376.3,555.3 376.6,551.7 376.9,553.6 377.2,550.2 377.6,556.0 377.9,551.7 378.2,556.8 378.5,550.1 378.8,553.7 379.1,548.8 379.5,556.1 379.8,551.1 380.1,553.3 380.4,551.1 380.7,553.8 381.1,547.7 381.4,553.8 381.7,549.9 382.0,555.2 382.3,549.5 382.6,553.0 383.0,549.6 383.3,552.5 383.6,549.9 383.9,552.9 384.2,549.1 384.5,554.1 384.9,550.1 385.2,553.6 385.5,548.8 385.8,554.3 386.1,549.7 386.5,551.8 386.8,549.6 387.1,551.6 387.4,547.6 387.7,552.2 388.0,548.4 388.4,552.6 388.7,547.4 389.0,551.8 389.3,548.1 389.6,553.5 389.9,548.9 390.3,553.5 390.6,547.0 390.9,552.3 391.2,546.2 391.5,551.4 391.9,547.5 392.2,551.4 392.5,547.9 392.8,550.5 393.1,547.4 393.4,551.2 393.8,546.3 394.1,550.9 394.4,546.1 394.7,549.6 395.0,545.7 395.3,548.9 395.7,545.8 396.0,548.0 396.3,544.5 396.6,550.1 396.9,541.9 397.3,548.4 397.6,542.8 397.9,548.3 398.2,541.2 398.5,546.2 398.8,542.2 399.2,545.8 399.5,542.7 399.8,545.0 400.1,541.1 400.4,543.3 400.7,540.1 401.1,543.7 401.4,541.1 401.7,543.9 402.0,540.0 402.3,544.0 402.7,539.2 403.0,542.5 403.3,537.0 403.6,545.2 403.9,536.5 404.2,543.7 404.6,534.9 404.9,541.2 405.2,535.9 405.5,540.3 405.8,535.2 406.1,543.2 406.5,536.5 406.8,543.0 407.1,535.9 407.4,539.0 407.7,535.0 408.1,538.8 408.4,533.5 408.7,539.8 409.0,530.8 409.3,537.7 409.6,534.5 410.0,537.9 410.3,534.3 410.6,536.9 410.9,533.6 411.2,538.6 411.5,529.9 411.9,536.5 412.2,532.4 412.5,538.7 412.8,531.2 413.1,538.7 413.4,531.5 413.8,534.7 414.1,530.4 414.4,534.1 414.7,527.7 415.0,535.0 415.4,528.8 415.7,535.1 416.0,529.4 416.3,534.6 416.6,528.3 416.9,533.7 417.3,530.2 417.6,534.1 417.9,527.0 418.2,534.7 418.5,529.9 418.8,532.8 419.2,530.3 419.5,534.9 419.8,530.6 420.1,534.3 420.4,529.7 420.8,535.1 421.1,530.2 421.4,535.9 421.7,528.5 422.0,534.4 422.3,530.4 422.7,532.5 423.0,529.2 423.3,535.1 423.6,526.8 423.9,536.3 424.2,530.0 424.6,534.0 424.9,527.4 425.2,534.3 425.5,530.6 425.8,533.5 426.2,529.5 426.5,535.4 426.8,532.1 427.1,533.7 427.4,532.0 427.7,536.1 428.1,529.2 428.4,535.4 428.7,532.6 429.0,536.3 429.3,529.9 429.6,536.8 430.0,532.3 430.3,536.9 430.6,533.0 430.9,539.3 431.2,532.8 431.6,540.4 431.9,532.6 432.2,536.9 432.5,534.6 432.8,536.8 433.1,534.8 433.5,542.0 433.8,535.0 434.1,540.6 434.4,535.4 434.7,538.7 435.0,536.1 435.4,540.1 435.7,536.0 436.0,541.0 436.3,535.9 436.6,539.7 437.0,536.5 437.3,539.1 437.6,534.9 437.9,540.1 438.2,534.5 438.5,545.4 438.9,537.4 439.2,542.3 439.5,535.1 439.8,540.5 440.1,535.4 440.4,541.4 440.8,537.0 441.1,543.8 441.4,538.4 441.7,543.3 442.0,537.9 442.4,542.5 442.7,536.7 443.0,546.3 443.3,537.9 443.6,541.0 443.9,536.4 444.3,544.1 444.6,539.3 444.9,542.9 445.2,539.5 445.5,541.6 445.8,539.2 446.2,544.7 446.5,538.5 446.8,543.7 447.1,539.4 447.4,541.2 447.8,540.7 448.1,544.8 448.4,539.7 448.7,542.2 449.0,540.0 449.3,544.5 449.7,539.8 450.0,542.8 450.3,540.9 450.6,542.5 450.9,539.2 451.2,543.6 451.6,541.4 451.9,543.4 452.2,540.7 452.5,542.6 452.8,540.2 453.2,546.1 453.5,538.8 453.8,545.2 454.1,539.5 454.4,542.6 454.7,538.8 455.1,542.1 455.4,539.1 455.7,544.3 456.0,540.2 456.3,543.2 456.6,540.6 457.0,544.6 457.3,539.6 457.6,541.9 457.9,538.1 458.2,543.0 458.6,540.1 458.9,545.0 459.2,539.9 459.5,542.9 459.8,538.6 460.1,542.3 460.5,540.5 460.8,542.9 461.1,538.5 461.4,544.4 461.7,539.3 462.0,542.4 462.4,538.2 462.7,542.5 463.0,537.2 463.3,543.2 463.6,537.8 464.0,542.3 464.3,537.3 464.6,545.3 464.9,538.9 465.2,541.8 465.5,539.7 465.9,542.5 466.2,538.9 466.5,542.0 466.8,538.7 467.1,541.8 467.4,539.2 467.8,543.0 468.1,538.1 468.4,543.5 468.7,533.2 469.0,542.9 469.4,538.4 469.7,542.1 470.0,536.2 470.3,543.1 470.6,539.0 470.9,542.3 471.3,538.1 471.6,541.9 471.9,537.6 472.2,543.0 472.5,538.8 472.8,542.7 473.2,537.4 473.5,540.1 473.8,536.6 474.1,542.7 474.4,536.8 474.8,543.5 475.1,535.7 475.4,541.3 475.7,538.4 476.0,542.7 476.3,537.6 476.7,541.8 477.0,537.4 477.3,543.4 477.6,534.3 477.9,541.1 478.2,537.1 478.6,539.8 478.9,535.9 479.2,540.3 479.5,536.4 479.8,539.9 480.2,536.8 480.5,542.9 480.8,535.2 481.1,540.3 481.4,537.9 481.7,542.2 482.1,537.3 482.4,541.7 482.7,537.3 483.0,542.0 483.3,536.5 483.6,544.2 484.0,535.8 484.3,541.6 484.6,536.1 484.9,540.8 485.2,536.0 485.6,540.2 485.9,535.6 486.2,542.3 486.5,537.5 486.8,543.4 487.1,535.5 487.5,540.5 487.8,536.4 488.1,539.6 488.4,536.7 488.7,540.0 489.0,536.5 489.4,539.3 489.7,535.1 490.0,542.2 490.3,535.2 490.6,540.1 491.0,537.1 491.3,542.4 491.6,535.7 491.9,540.8 492.2,535.8 492.5,541.2 492.9,535.1 493.2,539.6 493.5,535.3 493.8,540.0 494.1,535.0 494.4,539.8 494.8,535.7 495.1,539.6 495.4,535.8 495.7,540.1 496.0,535.6 496.4,539.3 496.7,536.6 497.0,540.0 497.3,534.8 497.6,538.3 497.9,535.9 498.3,538.3 498.6,536.3 498.9,541.5 499.2,531.2 499.5,539.1 499.8,536.2 500.2,540.0 500.5,534.6 500.8,539.6 501.1,534.5 501.4,539.5 501.8,533.1 502.1,539.4 502.4,534.3 502.7,539.6 503.0,535.1 503.3,542.1 503.7,536.0 504.0,539.4 504.3,535.0 504.6,539.9 504.9,535.0 505.2,541.2 505.6,536.0 505.9,540.1 506.2,534.7 506.5,539.1 506.8,532.7 507.2,541.4 507.5,533.7 507.8,540.9 508.1,533.0 508.4,541.0 508.7,534.8 509.1,540.2 509.4,535.4 509.7,537.7 510.0,535.4 510.3,539.8 510.6,535.9 511.0,539.7 511.3,534.6 511.6,540.5 511.9,533.6 512.2,539.6 512.6,536.0 512.9,539.6 513.2,536.6 513.5,543.0 513.8,535.9 514.1,542.4 514.5,536.5 514.8,541.6 515.1,536.8 515.4,540.7 515.7,537.2 516.0,543.7 516.4,538.2 516.7,543.5 517.0,537.7 517.3,542.0 517.6,538.3 518.0,541.2 518.3,537.5 518.6,541.3 518.9,538.6 519.2,543.1 519.5,540.1 519.9,541.8 520.2,537.9 520.5,543.5 520.8,540.0 521.1,546.2 521.4,539.9 521.8,543.4 522.1,537.9 522.4,545.1 522.7,541.7 523.0,545.4 523.4,541.7 523.7,548.4 524.0,540.9 524.3,546.2 524.6,541.4 524.9,549.0 525.3,543.2 525.6,550.8 525.9,543.8 526.2,547.9 526.5,542.8 526.8,547.5 527.2,544.4 527.5,547.1 527.8,544.1 528.1,547.8 528.4,546.0 528.8,549.8 529.1,544.6 529.4,549.9 529.7,546.6 530.0,549.4 530.3,547.2 530.7,549.8 531.0,547.7 531.3,550.7 531.6,546.4 531.9,550.2 532.2,549.1 532.6,552.4 532.9,547.4 533.2,551.2 533.5,548.7 533.8,550.3 534.2,549.1 534.5,551.1 534.8,548.6 535.1,553.5 535.4,543.7 535.7,550.9 536.1,545.9 536.4,552.0 536.7,547.5 537.0,552.0 537.3,547.8 537.6,551.5 538.0,549.0 538.3,552.8 538.6,547.4 538.9,551.9 539.2,549.8 539.6,552.6 539.9,547.9 540.2,552.4 540.5,550.0 540.8,553.0 541.1,550.7 541.5,552.3 541.8,550.0 542.1,554.7 542.4,548.7 542.7,553.3 543.0,550.4 543.4,553.6 543.7,550.4 544.0,554.7 544.3,551.3 544.6,556.2 544.9,552.9 545.3,554.5 545.6,551.6 545.9,556.0 546.2,551.5 546.5,555.5 546.9,552.4 547.2,555.2 547.5,553.4 547.8,555.3 548.1,552.0 548.4,556.6 548.8,553.7 549.1,556.8 549.4,553.5 549.7,557.8 550.0,554.4 550.3,557.2 550.7,553.1 551.0,559.7 551.3,554.1 551.6,558.5 551.9,554.6 552.3,559.6 552.6,554.6 552.9,559.1 553.2,554.1 553.5,561.1 553.8,556.9 554.2,558.7 554.5,555.6 554.8,558.8 555.1,555.1 555.4,560.4 555.7,555.8 556.1,558.8 556.4,556.6 556.7,560.5 557.0,555.7 557.3,560.3 557.7,558.1 558.0,560.8 558.3,557.1 558.6,560.0 558.9,556.5 559.2,560.9 559.6,558.8 559.9,561.6 560.2,559.1 560.5,561.3 560.8,558.9 561.1,561.8 561.5,557.7 561.8,561.5 562.1,557.7 562.4,561.6 562.7,557.9 563.1,563.9 563.4,558.1 563.7,562.7 564.0,559.4 564.3,562.8 564.6,559.3 565.0,561.8 565.3,560.2 565.6,563.2 565.9,559.7 566.2,562.7 566.5,560.6 566.9,564.4 567.2,560.9 567.5,562.9 567.8,560.7 568.1,563.0 568.5,560.6 568.8,563.2 569.1,559.7 569.4,565.1 569.7,561.5 570.0,563.8 570.4,560.0 570.7,565.3 571.0,561.5 571.3,564.1 571.6,561.4 571.9,564.6 572.3,561.7 572.6,564.1 572.9,561.7 573.2,564.0 573.5,561.0 573.9,564.0 574.2,559.6 574.5,564.8 574.8,562.1 575.1,565.4 575.4,560.7 575.8,566.1 576.1,560.3 576.4,564.8 576.7,561.4 577.0,564.6 577.3,561.7 577.7,564.2 578.0,562.7 578.3,564.8 578.6,562.0 578.9,565.2 579.3,562.9 579.6,565.2 579.9,563.1 580.2,565.6 580.5,562.2 580.8,564.9 581.2,562.2 581.5,565.0 581.8,561.5 582.1,565.7 582.4,561.6 582.7,564.2 583.1,563.3 583.4,566.5 583.7,563.6 584.0,565.1 584.3,560.9 584.7,566.9 585.0,563.5 585.3,564.9 585.6,562.5 585.9,564.9 586.2,562.2 586.6,566.4 586.9,562.3 587.2,564.8 587.5,562.8 587.8,564.6 588.1,562.9 588.5,566.5 588.8,562.2 589.1,565.4 589.4,561.9 589.7,564.5 590.1,561.9 590.4,566.0 590.7,562.3 591.0,567.6 591.3,563.2 591.6,566.9 592.0,562.3 592.3,567.6 592.6,563.0 592.9,566.6 593.2,562.6 593.5,566.2 593.9,561.8 594.2,565.9 594.5,563.3 594.8,565.4 595.1,563.6 595.5,566.1 595.8,561.5 596.1,565.7 596.4,562.9 596.7,567.1 597.0,562.6 597.4,565.4 597.7,563.4 598.0,566.6 598.3,564.1 598.6,566.1 598.9,563.7 599.3,566.1 599.6,562.0 599.9,566.4 600.2,563.5 600.5,568.5 600.9,563.1 601.2,566.9 601.5,563.8 601.8,565.7 602.1,563.7 602.4,566.0 602.8,563.0 603.1,566.3 603.4,562.9 603.7,567.5 604.0,564.4 604.3,566.3 604.7,564.1 605.0,567.1 605.3,564.3 605.6,567.8 605.9,564.9 606.3,567.2 606.6,564.3 606.9,567.8 607.2,564.8 607.5,566.6 607.8,564.3 608.2,566.8 608.5,564.9 608.8,567.2 609.1,564.7 609.4,567.7 609.7,564.6 610.1,566.7 610.4,564.3 610.7,568.1 611.0,565.6 611.3,567.8 611.7,564.0 612.0,566.9 612.3,565.6 612.6,568.1 612.9,565.7 613.2,567.7 613.6,564.8 613.9,567.8 614.2,564.2 614.5,567.7 614.8,565.7 615.1,567.5 615.5,565.0 615.8,567.8 616.1,565.8 616.4,567.9 616.7,566.1 617.1,568.4 617.4,564.9 617.7,568.5 618.0,565.1 618.3,568.1 618.6,565.7 619.0,569.0 619.3,565.9 619.6,568.0 619.9,564.9 620.2,568.7 620.5,566.5 620.9,567.8 621.2,564.5 621.5,568.0 621.8,565.4 622.1,568.3 622.5,565.9 622.8,567.9 623.1,565.2 623.4,568.2 623.7,565.9 624.0,568.6 624.4,565.9 624.7,567.8 625.0,566.9 625.3,568.1 625.6,566.7 625.9,567.6 626.3,565.3 626.6,567.8 626.9,566.3 627.2,568.9 627.5,565.6 627.9,569.2 628.2,565.7 628.5,568.5 628.8,566.9 629.1,568.8 629.4,565.8 629.8,569.8 630.1,565.7 630.4,568.4 630.7,566.9 631.0,568.0 631.3,565.4 631.7,568.9 632.0,565.8 632.3,568.2 632.6,566.6 632.9,569.5 633.3,565.9 633.6,568.3 633.9,566.9 634.2,568.7 634.5,565.5 634.8,568.2 635.2,566.5 635.5,569.7 635.8,566.2 636.1,569.4 636.4,565.5 636.7,569.2 637.1,567.1 637.4,568.1 637.7,566.6 638.0,568.1 638.3,565.9 638.7,568.5 639.0,566.4 639.3,568.5 639.6,565.6 639.9,568.9 640.2,566.5 640.6,568.7 640.9,565.8 641.2,569.4 641.5,565.9 641.8,569.5 642.1,566.8 642.5,568.6 642.8,564.6 643.1,568.3 643.4,565.1 643.7,568.4 644.1,567.1 644.4,569.0 644.7,566.0 645.0,568.3 645.3,567.0 645.6,568.1 646.0,565.8 646.3,568.4 646.6,564.9 646.9,568.7 647.2,566.5 647.5,568.3 647.9,565.8 648.2,568.5 648.5,566.3 648.8,570.1 649.1,566.8 649.5,568.3 649.8,566.3 650.1,568.7 650.4,566.5 650.7,570.0 651.0,566.7 651.4,568.6 651.7,566.6 652.0,568.9 652.3,566.7 652.6,568.9 652.9,566.2 653.3,568.2 653.6,564.2 653.9,568.6 654.2,567.0 654.5,569.0 654.9,566.2 655.2,568.5 655.5,566.4 655.8,569.2 656.1,567.1 656.4,569.9 656.8,565.5 657.1,569.3 657.4,566.5 657.7,568.7 658.0,567.2 658.3,568.4 658.7,566.3 659.0,568.3 659.3,566.1 659.6,568.5 659.9,567.0 660.3,568.0 660.6,564.7 660.9,568.7 661.2,565.4 661.5,569.7 661.8,565.4 662.2,569.7 662.5,566.0 662.8,568.5 663.1,565.8 663.4,568.0 663.7,566.2 664.1,568.7 664.4,566.3 664.7,568.4 665.0,565.0 665.3,567.9 665.7,564.5 666.0,571.1 666.3,565.5 666.6,567.7 666.9,565.7 667.2,568.2 667.6,566.1 667.9,567.9 668.2,565.7 668.5,568.8 668.8,566.6 669.1,567.9 669.5,566.1 669.8,567.6 670.1,565.4 670.4,568.0 670.7,566.5 671.0,569.4 671.4,565.9 671.7,569.8 672.0,566.4 672.3,569.1 672.6,564.8 673.0,567.8 673.3,563.4 673.6,568.2 673.9,566.4 674.2,567.9 674.5,565.4 674.9,568.3 675.2,566.2 675.5,569.1 675.8,565.1 676.1,567.3 676.4,565.7 676.8,568.6 677.1,565.7 677.4,567.9 677.7,564.6 678.0,569.2 678.4,566.4 678.7,567.3 679.0,565.9 679.3,569.9 679.6,566.1 679.9,568.4 680.3,565.8 680.6,567.3 680.9,566.2 681.2,568.3 681.5,565.7 681.8,568.2 682.2,565.3 682.5,567.8 682.8,564.6 683.1,568.0 683.4,565.4 683.8,567.6 684.1,565.2 684.4,567.3 684.7,565.6 685.0,567.6 685.3,565.6 685.7,568.6 686.0,565.6 686.3,567.4 686.6,564.1 686.9,567.3 687.2,564.7 687.6,568.8 687.9,565.3 688.2,567.4 688.5,565.3 688.8,567.6 689.2,564.0 689.5,568.5 689.8,565.3 690.1,567.7 690.4,564.3 690.7,568.4 691.1,565.2 691.4,568.2 691.7,565.6 692.0,567.7 692.3,566.5 692.6,567.0 693.0,565.2 693.3,567.7 693.6,564.3 693.9,567.9 694.2,564.8 694.6,567.1 694.9,565.7 695.2,569.2 695.5,563.4 695.8,567.5 696.1,564.3 696.5,567.0 696.8,565.3 697.1,570.6 697.4,565.4 697.7,568.7 698.0,564.5 698.4,566.8 698.7,565.1 699.0,568.4 699.3,565.3 699.6,566.9 700.0,564.4 700.3,568.3 700.6,564.6 700.9,566.5 701.2,564.8 701.5,568.0 701.9,564.9 702.2,566.8 702.5,565.1 702.8,566.9 703.1,564.9 703.4,566.5 703.8,564.1 704.1,567.7 704.4,564.6 704.7,568.3 705.0,564.8 705.4,566.8 705.7,564.3 706.0,566.6 706.3,563.8 706.6,567.5 706.9,563.7 707.3,566.3 707.6,561.6 707.9,568.4 708.2,564.8 708.5,566.2 708.8,563.2 709.2,566.4 709.5,562.1 709.8,567.1 710.1,563.5 710.4,566.2 710.8,563.0 711.1,567.1 711.4,563.7 711.7,566.8 712.0,563.8 712.3,567.1 712.7,564.2 713.0,566.2 713.3,564.7 713.6,565.4 713.9,564.0 714.2,566.1 714.6,564.0 714.9,566.0 715.2,564.2 715.5,566.7 715.8,561.9 716.2,566.0 716.5,563.2 716.8,565.4 717.1,562.2 717.4,567.9 717.7,561.8 718.1,565.2 718.4,562.2 718.7,565.0 719.0,561.9 719.3,565.6 719.6,562.4 720.0,565.7 720.3,562.3 720.6,566.6 720.9,563.7 721.2,565.3 721.6,561.5 721.9,564.8 722.2,562.1 722.5,565.4 722.8,562.6 723.1,565.7 723.5,562.5 723.8,566.4 724.1,562.9 724.4,565.0 724.7,562.1 725.0,564.7 725.4,563.1 725.7,564.8 726.0,562.3 726.3,564.7 726.6,562.4 727.0,565.9 727.3,562.9 727.6,565.7 727.9,562.5 728.2,563.5 728.5,561.4 728.9,564.8 729.2,560.5 729.5,565.7 729.8,560.8 730.1,565.2 730.4,561.6 730.8,563.9 731.1,561.6 731.4,563.8 731.7,560.6 732.0,563.9 732.4,561.8 732.7,563.7 733.0,561.4 733.3,564.0 733.6,559.3 733.9,563.8 734.3,561.7 734.6,563.3 734.9,560.7 735.2,563.4 735.5,560.5 735.8,564.5 736.2,560.4 736.5,563.8 736.8,560.7 737.1,562.5 737.4,560.5 737.8,563.3 738.1,559.8 738.4,562.9 738.7,559.5 739.0,561.7 739.3,559.2 739.7,562.6 740.0,558.7 740.3,562.3 740.6,559.2 740.9,561.4 741.2,560.1 741.6,561.9 741.9,558.5 742.2,563.1 742.5,558.2 742.8,561.8 743.2,559.8 743.5,561.3 743.8,558.8 744.1,563.0 744.4,556.6 744.7,561.1 745.1,558.0 745.4,560.9 745.7,556.7 746.0,562.3 746.3,558.2 746.6,559.8 747.0,557.7 747.3,560.0 747.6,557.4 747.9,560.1 748.2,557.3 748.6,560.3 748.9,556.5 749.2,561.1 749.5,554.2 749.8,560.3 750.1,557.7 750.5,560.5 750.8,557.0 751.1,559.3 751.4,556.2 751.7,561.1 752.0,556.7 752.4,559.0 752.7,556.1 753.0,559.6 753.3,555.9 753.6,559.3 754.0,557.3 754.3,558.7 754.6,556.4 754.9,558.9 755.2,555.2 755.5,558.5 755.9,555.8 756.2,558.6 756.5,555.1 756.8,560.1 757.1,557.3 757.4,559.1 757.8,556.7 758.1,559.6 758.4,556.0 758.7,558.3 759.0,555.6 759.4,559.6 759.7,555.3 760.0,559.3 760.3,556.2 760.6,558.6 760.9,555.3 761.3,559.9 761.6,555.9 761.9,560.8 762.2,556.0 762.5,559.1 762.8,554.0 763.2,559.3 763.5,554.8 763.8,558.2 764.1,556.3 764.4,558.7 764.8,554.5 765.1,557.8 765.4,556.1 765.7,559.7 766.0,556.0 766.3,558.2 766.7,556.0 767.0,558.8 767.3,556.0 767.6,559.6 767.9,556.9 768.2,557.8 768.6,556.3 768.9,561.2 769.2,554.9 769.5,558.4 769.8,555.7 770.2,559.0 770.5,556.1 770.8,558.3 771.1,556.1 771.4,559.1 771.7,555.3 772.1,558.8 772.4,556.1 772.7,560.2 773.0,556.3 773.3,559.5 773.6,555.3 774.0,558.7 774.3,554.7 774.6,559.3 774.9,554.7 775.2,559.5 775.6,556.4 775.9,560.6 776.2,555.9 776.5,559.8 776.8,555.9 777.1,558.4 777.5,554.1 777.8,559.9 778.1,554.1 778.4,558.2 778.7,556.8 779.0,558.4 779.4,554.7 779.7,560.6 780.0,555.5 780.3,557.3 780.6,555.9 781.0,559.3 781.3,556.5 781.6,560.5 781.9,555.9 782.2,560.0 782.5,553.3 782.9,558.9 783.2,555.7 783.5,560.5 783.8,556.6 784.1,559.0 784.4,556.6 784.8,559.5 785.1,557.0 785.4,558.8 785.7,557.0 786.0,559.4 786.4,558.1 786.7,558.7 787.0,555.9 787.3,560.4 787.6,557.6 787.9,558.9 788.3,558.0 788.6,560.3 788.9,557.1 789.2,560.0 789.5,556.0 789.8,560.1 790.2,558.0 790.5,561.5 790.8,557.3 791.1,559.9 791.4,557.3 791.8,559.4 792.1,558.3 792.4,561.4 792.7,556.7 793.0,561.5 793.3,557.7 793.7,561.9 794.0,558.2 794.3,560.2 794.6,557.5 794.9,562.9 795.2,556.8 795.6,561.0 795.9,557.8 796.2,560.7 796.5,557.6 796.8,560.0 797.1,557.8 797.5,561.9 797.8,556.8 798.1,560.9 798.4,558.7 798.7,561.5 799.1,558.8 799.4,561.2 799.7,557.1 800.0,561.8 800.3,558.4 800.6,563.2 801.0,559.1 801.3,562.7 801.6,555.9 801.9,563.0 802.2,559.4 802.5,563.3 802.9,558.3 803.2,562.0 803.5,558.2 803.8,562.4 804.1,559.4 804.5,561.6 804.8,559.1 805.1,561.3 805.4,559.5 805.7,562.2 806.0,559.8 806.4,561.6 806.7,559.6 807.0,563.5 807.3,557.0 807.6,563.2 807.9,559.6 808.3,562.9 808.6,558.5 808.9,562.1 809.2,558.4 809.5,563.0 809.9,559.8 810.2,563.2 810.5,559.5 810.8,562.5 811.1,559.1 811.4,562.6 811.8,559.6 812.1,563.1 812.4,559.1 812.7,561.8 813.0,559.6 813.3,563.2 813.7,559.7 814.0,563.7 814.3,559.2 814.6,562.4 814.9,559.1 815.3,561.4 815.6,559.4 815.9,563.5 816.2,559.8 816.5,561.6 816.8,559.8 817.2,562.5 817.5,559.5 817.8,562.2 818.1,560.8 818.4,564.9 818.7,560.2 819.1,563.6 819.4,557.4 819.7,562.9 820.0,560.8 820.3,563.6 820.7,560.2 821.0,563.6 821.3,558.9 821.6,563.0 821.9,559.4 822.2,563.0 822.6,559.4 822.9,562.2 823.2,560.2 823.5,561.9 823.8,560.7 824.1,563.7 824.5,560.4 824.8,562.9 825.1,559.4 825.4,562.6 825.7,560.2 826.1,562.7 826.4,560.7 826.7,563.5 827.0,559.0 827.3,562.5 827.6,560.4 828.0,563.3 828.3,559.4 828.6,564.5 828.9,561.2 829.2,563.2 829.5,559.8 829.9,564.4 830.2,560.2 830.5,562.5 830.8,560.4 831.1,563.5 831.5,559.7 831.8,564.0 832.1,560.4 832.4,563.3 832.7,558.6 833.0,563.3 833.4,559.8 833.7,564.3 834.0,560.8 834.3,562.6 834.6,561.0 834.9,562.2 835.3,561.0 835.6,563.5 835.9,561.6 836.2,563.2 836.5,560.1 836.9,562.5 837.2,560.3 837.5,564.6 837.8,560.5 838.1,563.0 838.4,560.1 838.8,562.9 839.1,560.3 839.4,564.5 839.7,560.5 840.0,562.8 840.3,561.0 840.7,563.0 841.0,559.1 841.3,562.5 841.6,561.3 841.9,563.8 842.3,560.9 842.6,564.6 842.9,559.6 843.2,564.0 843.5,558.9 843.8,564.5 844.2,559.9 844.5,563.3 844.8,559.5 845.1,563.0 845.4,561.1 845.7,563.6 846.1,561.3 846.4,562.7 846.7,560.2 847.0,564.2 847.3,560.2 847.7,564.0 848.0,560.2 848.3,563.1 848.6,560.7 848.9,563.8 849.2,560.3 849.6,563.5 849.9,561.5 850.2,564.4 850.5,561.4 850.8,565.0 851.1,560.9 851.5,564.6 851.8,561.0 852.1,565.5 852.4,561.6 852.7,564.5 853.1,562.4 853.4,564.0 853.7,560.6 854.0,564.5 854.3,561.3 854.6,564.0 855.0,560.7 855.3,564.4 855.6,561.5 855.9,564.4 856.2,560.9 856.5,565.6 856.9,561.5 857.2,564.3 857.5,561.6"/>
<polyline stroke="#18f018" points="95.5,488.8 95.8,482.4 96.1,490.5 96.5,483.3 96.8,490.8 97.1,484.7 97.4,490.3 97.7,483.3 98.0,491.0 98.4,481.6 98.7,490.1 99.0,481.4 99.3,491.0 99.6,482.2 99.9,488.3 100.3,481.8 100.6,491.3 100.9,485.2 101.2,490.1 101.5,484.7 101.9,488.3 102.2,482.6 102.5,488.7 102.8,484.4 103.1,490.7 103.4,483.9 103.8,489.5 104.1,483.9 104.4,492.2 104.7,484.6 105.0,494.9 105.3,485.6 105.7,492.3 106.0,485.7 106.3,490.8 106.6,484.7 106.9,493.5 107.3,487.2 107.6,490.9 107.9,486.1 108.2,492.4 108.5,482.7 108.8,493.0 109.2,486.1 109.5,492.7 109.8,483.9 110.1,491.1 110.4,483.6 110.7,494.5 111.1,486.8 111.4,491.7 111.7,484.7 112.0,493.1 112.3,488.9 112.7,492.2 113.0,488.4 113.3,492.6 113.6,489.7 113.9,494.3 114.2,487.9 114.6,493.5 114.9,488.1 115.2,495.6 115.5,489.1 115.8,493.8 116.1,487.7 116.5,496.9 116.8,488.5 117.1,494.7 117.4,491.2 117.7,492.9 118.1,487.1 118.4,493.8 118.7,489.0 119.0,492.2 119.3,489.6 119.6,495.4 120.0,487.4 120.3,493.8 120.6,489.4 120.9,493.0 121.2,488.6 121.5,494.0 121.9,490.0 122.2,498.2 122.5,489.6 122.8,496.5 123.1,490.7 123.5,497.5 123.8,487.1 124.1,496.6 124.4,490.9 124.7,496.4 125.0,491.1 125.4,494.1 125.7,491.0 126.0,494.7 126.3,486.2 126.6,496.1 126.9,488.9 127.3,495.2 127.6,491.3 127.9,495.9 128.2,490.8 128.5,495.4 128.9,490.6 129.2,496.4 129.5,492.3 129.8,496.1 130.1,490.3 130.4,494.9 130.8,486.3 131.1,494.2 131.4,487.6 131.7,496.2 132.0,486.6 132.3,495.5 132.7,489.3 133.0,497.2 133.3,488.7 133.6,497.7 133.9,487.9 134.3,495.0 134.6,489.3 134.9,494.4 135.2,487.7 135.5,494.7 135.8,490.9 136.2,493.4 136.5,488.5 136.8,494.1 137.1,490.4 137.4,496.9 137.7,486.8 138.1,494.1 138.4,488.5 138.7,494.9 139.0,488.3 139.3,494.8 139.7,489.6 140.0,494.1 140.3,489.7 140.6,495.5 140.9,489.7 141.2,494.0 141.6,488.6 141.9,492.9 142.2,487.7 142.5,495.4 142.8,489.1 143.1,493.8 143.5,485.6 143.8,494.0 144.1,483.7 144.4,493.7 144.7,485.8 145.1,492.1 145.4,487.7 145.7,492.6 146.0,487.7 146.3,491.4 146.6,486.7 147.0,491.2 147.3,487.5 147.6,491.5 147.9,484.7 148.2,491.4 148.5,485.9 148.9,491.0 149.2,486.2 149.5,488.9 149.8,483.5 150.1,489.5 150.5,483.4 150.8,491.9 151.1,486.0 151.4,490.8 151.7,485.3 152.0,490.7 152.4,483.6 152.7,491.1 153.0,483.6 153.3,490.0 153.6,484.0 153.9,487.1 154.3,478.8 154.6,490.7 154.9,482.3 155.2,489.7 155.5,483.8 155.9,486.5 156.2,484.6 156.5,489.8 156.8,478.9 157.1,486.8 157.4,480.1 157.8,487.2 158.1,478.0 158.4,487.2 158.7,480.0 159.0,485.6 159.3,475.7 159.7,486.1 160.0,478.9 160.3,484.4 160.6,476.8 160.9,484.0 161.2,477.8 161.6,486.8 161.9,478.0 162.2,482.6 162.5,474.4 162.8,484.4 163.2,472.3 163.5,482.9 163.8,474.5 164.1,482.7 164.4,476.5 164.7,481.9 165.1,473.2 165.4,481.1 165.7,475.5 166.0,478.8 166.3,473.2 166.6,477.8 167.0,474.1 167.3,477.3 167.6,472.1 167.9,479.5 168.2,471.8 168.6,478.0 168.9,467.0 169.2,480.9 169.5,469.7 169.8,474.4 170.1,467.3 170.5,474.4 170.8,468.9 171.1,473.7 171.4,468.8 171.7,473.7 172.0,466.6 172.4,478.2 172.7,464.5 173.0,474.2 173.3,466.7 173.6,471.3 174.0,460.1 174.3,469.4 174.6,461.0 174.9,468.2 175.2,462.2 175.5,466.1 175.9,458.3 176.2,465.5 176.5,460.4 176.8,465.9 177.1,457.6 177.4,462.0 177.8,456.6 178.1,459.7 178.4,454.1 178.7,458.2 179.0,454.4 179.4,457.5 179.7,452.0 180.0,457.6 180.3,449.9 180.6,456.0 180.9,444.7 181.3,453.4 181.6,448.4 181.9,449.5 182.2,446.2 182.5,452.0 182.8,443.6 183.2,450.6 183.5,442.6 183.8,446.2 184.1,436.0 184.4,444.6 184.8,438.4 185.1,442.2 185.4,435.4 185.7,441.3 186.0,434.9 186.3,438.1 186.7,427.6 187.0,435.7 187.3,428.0 187.6,435.8 187.9,424.1 188.2,434.6 188.6,419.5 188.9,428.0 189.2,422.7 189.5,427.9 189.8,423.0 190.2,427.6 190.5,418.5 190.8,426.6 191.1,415.4 191.4,421.1 191.7,415.6 192.1,418.6 192.4,412.5 192.7,415.2 193.0,411.5 193.3,413.7 193.6,409.5 194.0,410.3 194.3,405.3 194.6,412.0 194.9,404.1 195.2,406.6 195.6,398.5 195.9,407.8 196.2,398.8 196.5,403.7 196.8,395.9 197.1,400.8 197.5,393.5 197.8,396.7 198.1,390.0 198.4,391.9 198.7,382.8 199.0,392.9 199.4,384.6 199.7,388.0 200.0,379.6 200.3,388.4 200.6,377.3 201.0,386.7 201.3,371.9 201.6,377.7 201.9,367.7 202.2,372.9 202.5,369.6 202.9,377.3 203.2,363.2 203.5,369.0 203.8,360.6 204.1,366.0 204.4,357.2 204.8,362.4 205.1,354.3 205.4,359.1 205.7,349.0 206.0,354.1 206.4,341.2 206.7,353.7 207.0,342.4 207.3,345.3 207.6,338.1 207.9,344.2 208.3,335.6 208.6,342.9 208.9,326.8 209.2,335.8 209.5,321.5 209.8,330.3 210.2,319.7 210.5,327.3 210.8,318.7 211.1,319.6 211.4,310.9 211.8,316.0 212.1,304.8 212.4,314.4 212.7,297.5 213.0,307.5 213.3,296.3 213.7,300.7 214.0,289.2 214.3,293.8 214.6,285.8 214.9,290.1 215.2,279.4 215.6,281.0 215.9,269.8 216.2,285.4 216.5,261.0 216.8,272.0 217.2,262.9 217.5,266.6 217.8,260.7 218.1,261.8 218.4,252.0 218.7,260.7 219.1,243.4 219.4,257.3 219.7,242.7 220.0,250.0 220.3,238.5 220.6,242.3 221.0,230.9 221.3,237.7 221.6,229.7 221.9,234.1 222.2,217.1 222.6,228.7 222.9,218.7 223.2,221.4 223.5,205.4 223.8,216.7 224.1,206.5 224.5,210.4 224.8,200.1 225.1,205.4 225.4,195.4 225.7,197.7 226.0,185.1 226.4,190.3 226.7,180.9 227.0,187.4 227.3,174.2 227.6,178.6 228.0,166.3 228.3,170.5 228.6,158.2 228.9,164.9 229.2,153.7 229.5,161.7 229.9,149.5 230.2,154.0 230.5,145.8 230.8,148.9 231.1,141.2 231.4,150.7 231.8,136.4 232.1,142.1 232.4,131.8 232.7,140.4 233.0,129.2 233.4,131.9 233.7,121.2 234.0,126.7 234.3,115.0 234.6,130.1 234.9,114.6 235.3,120.4 235.6,107.4 235.9,112.4 236.2,104.0 236.5,108.8 236.8,97.0 237.2,104.7 237.5,85.9 237.8,101.6 238.1,89.3 238.4,99.5 238.8,87.2 239.1,97.5 239.4,80.7 239.7,93.8 240.0,84.9 240.3,91.5 240.7,78.3 241.0,85.7 241.3,72.9 241.6,88.5 241.9,76.7 242.2,86.4 242.6,66.3 242.9,84.7 243.2,70.6 243.5,84.7 243.8,73.1 244.2,84.9 244.5,73.1 244.8,90.0 245.1,77.0 245.4,89.9 245.7,85.1 246.1,94.1 246.4,86.1 246.7,99.6 247.0,92.4 247.3,101.9 247.6,94.3 248.0,105.1 248.3,94.3 248.6,112.1 248.9,96.4 249.2,116.9 249.6,108.4 249.9,119.2 250.2,109.3 250.5,121.2 250.8,118.7 251.1,132.8 251.5,126.7 251.8,137.1 252.1,129.0 252.4,144.4 252.7,133.0 253.0,147.3 253.4,139.8 253.7,153.3 254.0,148.7 254.3,161.4 254.6,155.8 255.0,166.6 255.3,163.7 255.6,177.1 255.9,170.6 256.2,182.4 256.5,177.3 256.9,189.0 257.2,186.5 257.5,197.6 257.8,193.7 258.1,207.6 258.4,203.1 258.8,215.3 259.1,207.6 259.4,225.9 259.7,226.2 260.0,235.5 260.4,232.1 260.7,245.9 261.0,245.3 261.3,255.3 261.6,251.6 261.9,264.6 262.3,262.5 262.6,273.8 262.9,270.6 263.2,288.3 263.5,283.6 263.8,295.7 264.2,288.7 264.5,302.3 264.8,299.4 265.1,311.9 265.4,302.5 265.8,317.2 266.1,316.1 266.4,328.0 266.7,320.7 267.0,333.4 267.3,329.9 267.7,340.6 268.0,336.4 268.3,350.0 268.6,341.5 268.9,357.4 269.2,348.0 269.6,361.4 269.9,360.2 270.2,369.2 270.5,367.3 270.8,375.8 271.2,374.1 271.5,383.1 271.8,380.8 272.1,389.0 272.4,387.0 272.7,396.7 273.1,394.5 273.4,403.9 273.7,398.5 274.0,412.3 274.3,407.5 274.6,418.4 275.0,412.5 275.3,423.2 275.6,420.0 275.9,429.1 276.2,425.4 276.6,433.5 276.9,433.4 277.2,445.9 277.5,436.8 277.8,448.1 278.1,442.7 278.5,450.3 278.8,447.8 279.1,454.8 279.4,452.6 279.7,458.0 280.0,457.5 280.4,463.3 280.7,458.5 281.0,468.5 281.3,463.9 281.6,472.3 282.0,466.8 282.3,473.7 282.6,468.6 282.9,480.9 283.2,470.7 283.5,482.4 283.9,476.3 284.2,483.7 284.5,478.3 284.8,486.6 285.1,481.7 285.4,488.6 285.8,484.9 286.1,493.2 286.4,480.6 286.7,490.6 287.0,486.1 287.3,494.8 287.7,489.6 288.0,494.1 288.3,492.6 288.6,498.5 288.9,496.0 289.3,501.7 289.6,495.5 289.9,502.3 290.2,499.0 290.5,505.9 290.8,502.6 291.2,508.1 291.5,498.6 291.8,507.0 292.1,503.5 292.4,509.6 292.7,502.4 293.1,510.2 293.4,504.1 293.7,512.5 294.0,507.9 294.3,514.8 294.7,509.2 295.0,514.2 295.3,511.3 295.6,518.0 295.9,508.5 296.2,517.1 296.6,512.8 296.9,518.8 297.2,514.4 297.5,519.5 297.8,515.3 298.1,521.3 298.5,515.3 298.8,521.2 299.1,518.0 299.4,524.4 299.7,515.8 300.1,524.2 300.4,517.0 300.7,523.7 301.0,519.5 301.3,524.2 301.6,520.5 302.0,523.3 302.3,519.6 302.6,527.3 302.9,521.0 303.2,529.2 303.5,522.4 303.9,529.9 304.2,524.7 304.5,530.2 304.8,524.5 305.1,528.9 305.5,522.6 305.8,530.7 306.1,526.8 306.4,529.2 306.7,523.0 307.0,531.0 307.4,525.9 307.7,533.9 308.0,525.6 308.3,532.3 308.6,526.7 308.9,533.2 309.3,529.4 309.6,533.9 309.9,530.6 310.2,535.8 310.5,531.6 310.9,536.0 311.2,528.3 311.5,536.9 311.8,532.1 312.1,534.5 312.4,530.7 312.8,536.7 313.1,534.1 313.4,537.3 313.7,533.4 314.0,539.7 314.3,534.2 314.7,540.6 315.0,535.0 315.3,539.8 315.6,535.3 315.9,539.0 316.3,536.3 316.6,540.3 316.9,536.8 317.2,538.9 317.5,535.7 317.8,540.1 318.2,536.4 318.5,543.6 318.8,537.7 319.1,541.2 319.4,537.1 319.7,540.4 320.1,539.2 320.4,540.8 320.7,537.4 321.0,543.5 321.3,538.8 321.7,543.5 322.0,539.4 322.3,543.3 322.6,539.3 322.9,544.6 323.2,537.1 323.6,544.5 323.9,538.9 324.2,543.5 324.5,540.4 324.8,544.4 325.1,538.5 325.5,545.6 325.8,542.2 326.1,546.5 326.4,538.0 326.7,545.9 327.1,540.5 327.4,545.5 327.7,541.9 328.0,545.5 328.3,542.5 328.6,546.9 329.0,540.0 329.3,545.1 329.6,543.4 329.9,546.9 330.2,544.0 330.5,548.2 330.9,542.9 331.2,548.1 331.5,542.4 331.8,546.0 332.1,544.0 332.5,546.7 332.8,542.2 333.1,550.7 333.4,542.8 333.7,547.6 334.0,542.3 334.4,550.7 334.7,544.0 335.0,547.5 335.3,541.5 335.6,549.8 335.9,544.6 336.3,548.8 336.6,543.8 336.9,547.8 337.2,544.2 337.5,547.9 337.9,544.7 338.2,550.0 338.5,545.8 338.8,549.7 339.1,544.6 339.4,551.1 339.8,546.5 340.1,553.0 340.4,544.5 340.7,549.8 341.0,546.9 341.3,551.8 341.7,544.7 342.0,551.2 342.3,543.4 342.6,549.3 342.9,547.3 343.3,549.7 343.6,545.3 343.9,551.6 344.2,547.4 344.5,550.0 344.8,547.9 345.2,550.0 345.5,546.3 345.8,550.2 346.1,545.1 346.4,551.3 346.7,547.8 347.1,553.1 347.4,546.8 347.7,550.5 348.0,547.1 348.3,552.2 348.7,548.3 349.0,551.5 349.3,548.6 349.6,552.5 349.9,546.9 350.2,551.5 350.6,547.1 350.9,552.4 351.2,547.5 351.5,553.7 351.8,548.1 352.1,556.2 352.5,549.0 352.8,551.4 353.1,548.2 353.4,552.9 353.7,546.1 354.1,549.8 354.4,549.1 354.7,553.4 355.0,546.7 355.3,552.3 355.6,546.6 356.0,552.9 356.3,548.9 356.6,553.8 356.9,547.9 357.2,553.2 357.5,549.7 357.9,551.1 358.2,548.6 358.5,552.5 358.8,548.3 359.1,551.4 359.5,549.4 359.8,551.4 360.1,548.3 360.4,553.6 360.7,549.0 361.0,551.7 361.4,549.5 361.7,552.8 362.0,548.6 362.3,553.0 362.6,548.5 362.9,552.4 363.3,547.6 363.6,551.2 363.9,549.6 364.2,551.2 364.5,546.9 364.9,550.7 365.2,548.6 365.5,551.5 365.8,548.2 366.1,552.6 366.4,549.2 366.8,554.0 367.1,548.7 367.4,553.8 367.7,547.1 368.0,552.9 368.3,548.3 368.7,551.6 369.0,546.5 369.3,553.4 369.6,547.6 369.9,551.6 370.3,546.6 370.6,550.5 370.9,548.4 371.2,550.5 371.5,545.6 371.8,550.7 372.2,547.3 372.5,549.8 372.8,547.2 373.1,551.7 373.4,546.0 373.7,552.0 374.1,546.9 374.4,550.1 374.7,541.3 375.0,549.9 375.3,545.3 375.7,551.7 376.0,544.7 376.3,548.9 376.6,545.8 376.9,549.0 377.2,543.9 377.6,550.3 377.9,544.7 378.2,548.5 378.5,542.8 378.8,550.6 379.1,543.9 379.5,549.1 379.8,544.0 380.1,546.7 380.4,542.6 380.7,549.7 381.1,542.4 381.4,549.4 381.7,542.7 382.0,546.9 382.3,543.1 382.6,545.4 383.0,542.0 383.3,546.1 383.6,542.5 383.9,548.0 384.2,542.5 384.5,546.4 384.9,542.5 385.2,545.9 385.5,543.2 385.8,546.0 386.1,540.7 386.5,545.5 386.8,541.6 387.1,544.9 387.4,540.1 387.7,545.8 388.0,538.5 388.4,544.7 388.7,541.4 389.0,542.7 389.3,536.9 389.6,546.0 389.9,539.6 390.3,544.2 390.6,540.9 390.9,544.1 391.2,538.4 391.5,542.7 391.9,539.7 392.2,544.3 392.5,537.4 392.8,543.1 393.1,537.0 393.4,541.5 393.8,536.4 394.1,540.9 394.4,536.2 394.7,540.5 395.0,536.8 395.3,539.6 395.7,537.1 396.0,540.4 396.3,533.3 396.6,541.0 396.9,535.2 397.3,541.4 397.6,531.6 397.9,543.0 398.2,535.2 398.5,540.1 398.8,532.0 399.2,536.9 399.5,531.1 399.8,538.6 400.1,533.3 400.4,536.2 400.7,530.8 401.1,539.1 401.4,530.1 401.7,534.5 402.0,530.0 402.3,536.5 402.7,528.1 403.0,537.1 403.3,532.4 403.6,533.2 403.9,529.6 404.2,536.5 404.6,529.4 404.9,534.2 405.2,528.7 405.5,531.9 405.8,525.0 406.1,533.1 406.5,527.1 406.8,530.8 407.1,527.5 407.4,529.6 407.7,525.5 408.1,530.2 408.4,526.4 408.7,528.6 409.0,526.0 409.3,529.2 409.6,526.3 410.0,530.5 410.3,524.3 410.6,529.5 410.9,524.3 411.2,529.6 411.5,522.8 411.9,528.6 412.2,523.3 412.5,526.9 412.8,523.8 413.1,526.7 413.4,520.4 413.8,528.8 414.1,522.2 414.4,528.0 414.7,520.2 415.0,526.5 415.4,519.4 415.7,527.7 416.0,519.4 416.3,525.0 416.6,517.1 416.9,526.6 417.3,521.7 417.6,527.0 417.9,521.8 418.2,529.6 418.5,520.0 418.8,524.1 419.2,521.8 419.5,526.9 419.8,521.9 420.1,525.5 420.4,518.7 420.8,524.6 421.1,520.2 421.4,525.5 421.7,518.9 422.0,526.9 422.3,521.2 422.7,524.4 423.0,517.7 423.3,526.8 423.6,520.9 423.9,528.6 424.2,522.0 424.6,526.0 424.9,519.9 425.2,528.5 425.5,521.3 425.8,527.2 426.2,523.0 426.5,531.6 426.8,523.8 427.1,528.1 427.4,522.4 427.7,530.4 428.1,520.8 428.4,529.3 428.7,524.8 429.0,529.3 429.3,524.3 429.6,531.9 430.0,524.1 430.3,530.8 430.6,521.3 430.9,528.6 431.2,522.4 431.6,528.7 431.9,525.4 432.2,530.6 432.5,525.0 432.8,531.4 433.1,527.0 433.5,529.6 433.8,525.7 434.1,532.7 434.4,527.2 434.7,534.6 435.0,527.5 435.4,532.2 435.7,527.8 436.0,531.9 436.3,525.4 436.6,531.1 437.0,528.8 437.3,531.6 437.6,527.1 437.9,533.9 438.2,526.8 438.5,533.7 438.9,529.2 439.2,533.8 439.5,528.9 439.8,534.9 440.1,529.0 440.4,534.2 440.8,529.5 441.1,535.5 441.4,525.8 441.7,532.4 442.0,528.8 442.4,533.2 442.7,529.1 443.0,537.9 443.3,530.0 443.6,534.5 443.9,530.2 444.3,534.6 444.6,530.2 444.9,535.5 445.2,531.2 445.5,534.0 445.8,530.7 446.2,534.0 446.5,529.4 446.8,536.3 447.1,530.9 447.4,536.0 447.8,530.7 448.1,536.5 448.4,532.9 448.7,535.4 449.0,531.2 449.3,535.3 449.7,532.3 450.0,536.8 450.3,531.3 450.6,535.8 450.9,531.2 451.2,535.8 451.6,532.2 451.9,537.1 452.2,532.3 452.5,535.7 452.8,532.0 453.2,537.7 453.5,530.3 453.8,535.7 454.1,531.1 454.4,536.3 454.7,530.8 455.1,535.7 455.4,530.8 455.7,534.6 456.0,531.4 456.3,536.5 456.6,529.5 457.0,535.3 457.3,531.3 457.6,538.1 457.9,532.7 458.2,534.9 458.6,529.3 458.9,535.8 459.2,532.6 459.5,535.9 459.8,532.4 460.1,536.7 460.5,529.9 460.8,537.3 461.1,532.4 461.4,535.7 461.7,532.1 462.0,535.5 462.4,530.4 462.7,535.1 463.0,531.2 463.3,534.4 463.6,532.0 464.0,535.3 464.3,532.6 464.6,535.7 464.9,528.5 465.2,536.6 465.5,532.5 465.9,536.8 466.2,533.7 466.5,535.6 466.8,530.4 467.1,535.7 467.4,531.4 467.8,538.3 468.1,531.0 468.4,536.3 468.7,531.9 469.0,536.4 469.4,532.4 469.7,535.3 470.0,530.8 470.3,536.8 470.6,532.5 470.9,537.4 471.3,529.0 471.6,535.1 471.9,529.3 472.2,535.3 472.5,531.2 472.8,535.3 473.2,531.9 473.5,534.4 473.8,531.8 474.1,534.4 474.4,532.6 474.8,533.7 475.1,530.7 475.4,533.9 475.7,530.9 476.0,534.5 476.3,529.9 476.7,534.2 477.0,529.7 477.3,536.4 477.6,531.1 477.9,534.9 478.2,529.2 478.6,533.7 478.9,526.8 479.2,534.4 479.5,531.2 479.8,534.6 480.2,528.3 480.5,535.3 480.8,530.0 481.1,537.4 481.4,530.4 481.7,533.8 482.1,529.3 482.4,534.5 482.7,529.2 483.0,533.1 483.3,528.4 483.6,532.9 484.0,529.1 484.3,534.4 484.6,528.0 484.9,534.2 485.2,527.5 485.6,532.8 485.9,527.7 486.2,532.0 486.5,526.6 486.8,538.1 487.1,527.5 487.5,534.8 487.8,525.9 488.1,532.8 488.4,529.1 488.7,532.5 489.0,527.8 489.4,532.9 489.7,528.2 490.0,533.4 490.3,528.2 490.6,531.9 491.0,528.1 491.3,532.1 491.6,526.4 491.9,534.8 492.2,526.4 492.5,531.3 492.9,528.8 493.2,533.0 493.5,528.1 493.8,533.1 494.1,526.3 494.4,532.0 494.8,529.3 495.1,531.9 495.4,527.9 495.7,534.0 496.0,528.1 496.4,531.0 496.7,528.1 497.0,531.3 497.3,528.6 497.6,531.4 497.9,527.8 498.3,531.4 498.6,526.4 498.9,535.4 499.2,527.5 499.5,534.7 499.8,527.5 500.2,532.5 500.5,529.4 500.8,532.4 501.1,524.8 501.4,533.5 501.8,527.3 502.1,532.2 502.4,526.9 502.7,530.3 503.0,524.6 503.3,534.4 503.7,526.9 504.0,531.9 504.3,526.4 504.6,532.7 504.9,528.0 505.2,531.6 505.6,527.5 505.9,531.0 506.2,526.1 506.5,532.8 506.8,525.7 507.2,533.4 507.5,528.2 507.8,534.3 508.1,527.9 508.4,532.5 508.7,526.6 509.1,532.5 509.4,525.3 509.7,533.4 510.0,528.4 510.3,532.6 510.6,528.6 511.0,532.5 511.3,529.2 511.6,533.7 511.9,525.0 512.2,532.1 512.6,528.8 512.9,533.3 513.2,529.5 513.5,532.3 513.8,527.9 514.1,533.9 514.5,528.1 514.8,533.6 515.1,528.4 515.4,532.7 515.7,530.5 516.0,533.9 516.4,530.3 516.7,533.6 517.0,529.3 517.3,533.2 517.6,530.2 518.0,534.2 518.3,530.7 518.6,533.7 518.9,528.3 519.2,533.2 519.5,530.8 519.9,533.6 520.2,531.4 520.5,534.3 520.8,528.8 521.1,538.3 521.4,531.0 521.8,536.4 522.1,533.9 522.4,535.9 522.7,532.6 523.0,539.3 523.4,534.1 523.7,538.5 524.0,535.0 524.3,542.0 524.6,535.2 524.9,541.0 525.3,537.6 525.6,541.0 525.9,537.8 526.2,543.4 526.5,537.3 526.8,540.8 527.2,535.2 527.5,543.2 527.8,539.5 528.1,543.9 528.4,538.1 528.8,543.2 529.1,540.0 529.4,542.8 529.7,539.5 530.0,542.5 530.3,540.0 530.7,543.0 531.0,539.0 531.3,543.1 531.6,539.5 531.9,544.2 532.2,541.4 532.6,543.9 532.9,539.8 533.2,545.4 533.5,540.7 533.8,545.0 534.2,537.9 534.5,545.2 534.8,540.4 535.1,547.2 535.4,539.8 535.7,545.0 536.1,542.7 536.4,546.3 536.7,540.4 537.0,545.5 537.3,539.9 537.6,546.3 538.0,543.2 538.3,547.9 538.6,541.1 538.9,547.0 539.2,543.0 539.6,546.3 539.9,543.7 540.2,547.2 540.5,543.6 540.8,549.1 541.1,543.5 541.5,547.2 541.8,543.2 542.1,547.4 542.4,543.5 542.7,548.2 543.0,543.3 543.4,551.3 543.7,545.1 544.0,548.6 544.3,544.1 544.6,549.5 544.9,545.1 545.3,549.6 545.6,545.3 545.9,551.4 546.2,544.6 546.5,550.4 546.9,544.4 547.2,551.4 547.5,546.3 547.8,552.2 548.1,546.5 548.4,551.8 548.8,545.4 549.1,551.5 549.4,547.2 549.7,552.3 550.0,548.8 550.3,552.5 550.7,546.5 551.0,553.0 551.3,550.1 551.6,551.3 551.9,548.4 552.3,553.5 552.6,548.7 552.9,553.7 553.2,549.9 553.5,553.4 553.8,548.8 554.2,552.5 554.5,550.0 554.8,555.3 555.1,551.6 555.4,553.6 555.7,550.4 556.1,554.4 556.4,551.5 556.7,555.4 557.0,549.9 557.3,556.4 557.7,551.1 558.0,557.5 558.3,552.4 558.6,556.1 558.9,552.6 559.2,555.1 559.6,550.9 559.9,556.7 560.2,552.5 560.5,557.2 560.8,554.3 561.1,555.9 561.5,553.7 561.8,557.2 562.1,553.5 562.4,559.0 562.7,555.3 563.1,557.6 563.4,554.7 563.7,559.3 564.0,554.1 564.3,558.0 564.6,555.1 565.0,558.7 565.3,555.1 565.6,558.6 565.9,556.1 566.2,558.9 566.5,555.0 566.9,558.5 567.2,555.7 567.5,561.1 567.8,556.3 568.1,560.0 568.5,556.0 568.8,559.5 569.1,556.4 569.4,559.9 569.7,556.9 570.0,559.4 570.4,556.3 570.7,560.5 571.0,555.3 571.3,559.5 571.6,557.2 571.9,560.6 572.3,557.3 572.6,559.7 572.9,558.3 573.2,560.8 573.5,555.8 573.9,560.2 574.2,556.8 574.5,561.3 574.8,558.1 575.1,560.4 575.4,558.4 575.8,560.1 576.1,557.7 576.4,560.4 576.7,557.3 577.0,561.0 577.3,556.4 577.7,561.3 578.0,557.6 578.3,563.0 578.6,557.8 578.9,561.5 579.3,557.0 579.6,561.1 579.9,557.8 580.2,563.0 580.5,559.2 580.8,561.3 581.2,559.1 581.5,564.0 581.8,558.8 582.1,561.4 582.4,556.9 582.7,561.0 583.1,557.5 583.4,560.8 583.7,557.9 584.0,562.0 584.3,558.7 584.7,561.4 585.0,559.4 585.3,561.9 585.6,558.5 585.9,564.1 586.2,559.8 586.6,561.3 586.9,558.3 587.2,561.0 587.5,559.6 587.8,562.3 588.1,558.1 588.5,561.3 588.8,560.2 589.1,564.5 589.4,557.0 589.7,561.9 590.1,560.1 590.4,561.7 590.7,558.3 591.0,561.7 591.3,559.7 591.6,561.4 592.0,559.6 592.3,561.8 592.6,559.4 592.9,561.7 593.2,558.8 593.5,561.8 593.9,558.5 594.2,562.0 594.5,559.3 594.8,561.9 595.1,558.7 595.5,562.1 595.8,559.5 596.1,562.0 596.4,558.9 596.7,562.2 597.0,559.3 597.4,562.6 597.7,559.6 598.0,561.8 598.3,558.7 598.6,562.7 598.9,558.3 599.3,562.3 599.6,560.6 599.9,561.5 600.2,560.3 600.5,565.2 600.9,559.3 601.2,561.8 601.5,560.8 601.8,563.4 602.1,559.5 602.4,563.0 602.8,560.6 603.1,563.2 603.4,560.1 603.7,563.6 604.0,560.8 604.3,564.0 604.7,560.1 605.0,563.6 605.3,557.3 605.6,562.5 605.9,560.7 606.3,562.8 606.6,559.9 606.9,563.5 607.2,560.7 607.5,564.1 607.8,560.9 608.2,563.3 608.5,560.4 608.8,564.0 609.1,561.2 609.4,564.9 609.7,561.3 610.1,563.8 610.4,560.4 610.7,564.0 611.0,561.4 611.3,563.1 611.7,561.5 612.0,563.8 612.3,561.3 612.6,565.2 612.9,560.8 613.2,564.2 613.6,559.9 613.9,566.0 614.2,561.8 614.5,563.2 614.8,560.9 615.1,564.3 615.5,561.7 615.8,564.0 616.1,561.2 616.4,564.8 616.7,561.1 617.1,565.6 617.4,560.6 617.7,563.8 618.0,561.8 618.3,563.7 618.6,560.6 619.0,564.5 619.3,561.2 619.6,563.7 619.9,561.1 620.2,564.8 620.5,562.5 620.9,565.2 621.2,559.8 621.5,564.1 621.8,561.5 622.1,563.6 622.5,561.4 622.8,565.5 623.1,561.6 623.4,565.0 623.7,562.5 624.0,564.0 624.4,560.7 624.7,563.4 625.0,561.6 625.3,563.4 625.6,561.6 625.9,565.1 626.3,560.9 626.6,564.0 626.9,561.7 627.2,563.7 627.5,562.4 627.9,564.7 628.2,562.1 628.5,565.7 628.8,562.5 629.1,565.2 629.4,561.8 629.8,565.7 630.1,561.1 630.4,565.7 630.7,562.7 631.0,564.3 631.3,562.6 631.7,565.1 632.0,562.4 632.3,566.2 632.6,562.3 632.9,564.9 633.3,562.2 633.6,563.9 633.9,562.5 634.2,564.3 634.5,560.3 634.8,563.9 635.2,562.7 635.5,564.9 635.8,561.4 636.1,565.5 636.4,562.5 636.7,566.1 637.1,561.6 637.4,564.8 637.7,562.3 638.0,565.2 638.3,563.1 638.7,563.9 639.0,561.6 639.3,564.4 639.6,562.2 639.9,564.2 640.2,562.5 640.6,564.2 640.9,561.0 641.2,565.7 641.5,562.6 641.8,564.3 642.1,562.4 642.5,567.0 642.8,561.0 643.1,564.4 643.4,560.7 643.7,564.4 644.1,561.7 644.4,567.1 644.7,561.3 645.0,564.5 645.3,561.8 645.6,566.0 646.0,562.5 646.3,565.2 646.6,562.6 646.9,565.5 647.2,562.7 647.5,564.7 647.9,561.5 648.2,565.3 648.5,562.3 648.8,565.2 649.1,562.5 649.5,564.6 649.8,562.3 650.1,565.5 650.4,562.3 650.7,565.4 651.0,561.8 651.4,564.4 651.7,562.8 652.0,564.6 652.3,562.0 652.6,565.9 652.9,562.8 653.3,564.3 653.6,561.6 653.9,564.4 654.2,562.6 654.5,566.0 654.9,561.8 655.2,566.1 655.5,561.5 655.8,564.3 656.1,561.8 656.4,565.7 656.8,561.7 657.1,564.7 657.4,562.6 657.7,566.7 658.0,561.0 658.3,565.1 658.7,560.9 659.0,565.7 659.3,560.5 659.6,565.0 659.9,562.7 660.3,564.5 660.6,562.4 660.9,564.1 661.2,562.5 661.5,565.6 661.8,560.8 662.2,565.2 662.5,562.8 662.8,564.7 663.1,562.2 663.4,564.3 663.7,561.4 664.1,564.3 664.4,561.2 664.7,564.2 665.0,562.9 665.3,564.8 665.7,562.4 666.0,564.1 666.3,561.7 666.6,564.3 666.9,561.7 667.2,565.2 667.6,563.0 667.9,565.9 668.2,561.7 668.5,564.3 668.8,562.6 669.1,564.6 669.5,561.8 669.8,565.6 670.1,562.8 670.4,565.9 670.7,562.2 671.0,565.5 671.4,561.4 671.7,564.5 672.0,561.5 672.3,564.7 672.6,561.6 673.0,564.8 673.3,561.7 673.6,563.2 673.9,561.1 674.2,564.9 674.5,561.5 674.9,564.6 675.2,560.9 675.5,564.4 675.8,561.8 676.1,564.1 676.4,561.9 676.8,564.1 677.1,561.0 677.4,564.0 677.7,562.0 678.0,564.4 678.4,561.1 678.7,564.6 679.0,562.1 679.3,564.7 679.6,561.5 679.9,563.9 680.3,561.7 680.6,564.1 680.9,561.5 681.2,564.9 681.5,559.4 681.8,564.6 682.2,562.0 682.5,564.9 682.8,561.8 683.1,564.6 683.4,561.3 683.8,563.7 684.1,562.2 684.4,564.5 684.7,561.2 685.0,565.0 685.3,562.0 685.7,565.2 686.0,561.4 686.3,564.0 686.6,560.1 686.9,565.3 687.2,559.5 687.6,565.3 687.9,560.4 688.2,565.4 688.5,561.9 688.8,563.6 689.2,562.1 689.5,563.8 689.8,561.2 690.1,563.7 690.4,560.1 690.7,563.9 691.1,561.6 691.4,564.4 691.7,561.3 692.0,563.9 692.3,561.9 692.6,563.8 693.0,561.9 693.3,563.3 693.6,559.7 693.9,563.6 694.2,560.5 694.6,564.1 694.9,561.1 695.2,564.2 695.5,560.3 695.8,563.4 696.1,561.0 696.5,563.9 696.8,560.0 697.1,563.7 697.4,560.5 697.7,563.1 698.0,561.7 698.4,563.8 698.7,561.1 699.0,562.9 699.3,561.1 699.6,562.7 700.0,561.1 700.3,563.4 700.6,561.1 700.9,564.7 701.2,560.4 701.5,563.8 701.9,559.2 702.2,562.9 702.5,560.1 702.8,564.1 703.1,559.8 703.4,563.5 703.8,560.0 704.1,563.1 704.4,561.2 704.7,562.7 705.0,560.8 705.4,563.5 705.7,560.3 706.0,563.5 706.3,561.2 706.6,563.3 706.9,560.6 707.3,562.1 707.6,558.8 707.9,563.6 708.2,559.8 708.5,563.3 708.8,560.0 709.2,565.4 709.5,558.4 709.8,565.2 710.1,560.1 710.4,562.0 710.8,559.1 711.1,561.7 711.4,559.7 711.7,563.2 712.0,558.5 712.3,561.9 712.7,559.4 713.0,561.6 713.3,558.3 713.6,562.3 713.9,558.2 714.2,563.1 714.6,558.9 714.9,561.4 715.2,559.8 715.5,563.6 715.8,557.4 716.2,561.7 716.5,559.1 716.8,563.1 717.1,558.7 717.4,563.3 717.7,557.8 718.1,562.2 718.4,558.8 718.7,560.2 719.0,557.7 719.3,562.9 719.6,558.4 720.0,563.0 720.3,557.1 720.6,561.1 720.9,558.6 721.2,560.3 721.6,558.0 721.9,563.2 722.2,557.9 722.5,562.6 722.8,558.6 723.1,561.0 723.5,557.9 723.8,560.3 724.1,558.9 724.4,561.7 724.7,558.1 725.0,560.6 725.4,557.1 725.7,559.3 726.0,557.7 726.3,559.6 726.6,556.7 727.0,559.3 727.3,557.9 727.6,560.1 727.9,557.3 728.2,561.1 728.5,553.9 728.9,560.3 729.2,556.3 729.5,558.8 729.8,556.5 730.1,559.0 730.4,556.6 730.8,559.3 731.1,555.6 731.4,559.1 731.7,555.2 732.0,560.3 732.4,555.0 732.7,559.3 733.0,556.4 733.3,559.3 733.6,553.9 733.9,559.5 734.3,555.7 734.6,557.7 734.9,553.5 735.2,560.1 735.5,554.5 735.8,558.5 736.2,555.1 736.5,557.3 736.8,555.1 737.1,556.9 737.4,554.8 737.8,557.3 738.1,555.3 738.4,558.5 738.7,554.5 739.0,557.1 739.3,554.3 739.7,557.7 740.0,553.7 740.3,556.6 740.6,554.8 740.9,557.2 741.2,553.6 741.6,559.1 741.9,553.6 742.2,558.1 742.5,553.0 742.8,556.7 743.2,551.8 743.5,556.7 743.8,553.3 744.1,556.0 744.4,552.0 744.7,556.2 745.1,552.7 745.4,556.5 745.7,552.6 746.0,555.9 746.3,551.9 746.6,556.6 747.0,551.3 747.3,554.8 747.6,553.4 747.9,554.3 748.2,552.2 748.6,556.2 748.9,552.3 749.2,555.3 749.5,551.0 749.8,554.9 750.1,550.5 750.5,556.3 750.8,550.2 751.1,555.1 751.4,551.0 751.7,556.9 752.0,551.3 752.4,556.1 752.7,551.2 753.0,557.6 753.3,551.0 753.6,556.0 754.0,553.0 754.3,554.4 754.6,551.0 754.9,553.8 755.2,552.1 755.5,554.1 755.9,551.8 756.2,557.5 756.5,550.8 756.8,554.8 757.1,551.7 757.4,556.3 757.8,550.6 758.1,553.7 758.4,551.1 758.7,554.1 759.0,550.2 759.4,554.5 759.7,552.4 760.0,556.4 760.3,550.7 760.6,553.8 760.9,550.3 761.3,553.4 761.6,550.8 761.9,556.4 762.2,550.9 762.5,553.2 762.8,549.3 763.2,554.3 763.5,551.1 763.8,553.3 764.1,548.9 764.4,555.1 764.8,550.3 765.1,555.1 765.4,550.3 765.7,554.2 766.0,550.5 766.3,555.0 766.7,550.3 767.0,553.8 767.3,550.7 767.6,553.0 767.9,550.6 768.2,552.7 768.6,549.4 768.9,554.7 769.2,550.2 769.5,553.1 769.8,550.5 770.2,554.2 770.5,548.7 770.8,553.2 771.1,550.7 771.4,553.2 771.7,550.4 772.1,554.4 772.4,549.0 772.7,553.9 773.0,550.9 773.3,553.7 773.6,549.0 774.0,552.2 774.3,550.1 774.6,552.8 774.9,550.2 775.2,552.3 775.6,547.2 775.9,553.4 776.2,550.6 776.5,552.8 776.8,550.5 777.1,555.2 777.5,551.4 777.8,553.7 778.1,550.2 778.4,553.8 778.7,549.9 779.0,554.1 779.4,550.3 779.7,555.6 780.0,551.3 780.3,554.8 780.6,550.9 781.0,556.1 781.3,551.3 781.6,553.5 781.9,550.9 782.2,555.2 782.5,549.7 782.9,556.1 783.2,551.7 783.5,554.6 783.8,550.4 784.1,553.8 784.4,550.4 784.8,557.1 785.1,550.7 785.4,553.9 785.7,549.9 786.0,555.3 786.4,551.2 786.7,557.1 787.0,551.8 787.3,554.1 787.6,552.6 787.9,556.4 788.3,552.4 788.6,558.6 788.9,553.3 789.2,556.5 789.5,548.4 789.8,556.1 790.2,552.1 790.5,555.7 790.8,552.8 791.1,556.2 791.4,551.8 791.8,556.9 792.1,550.3 792.4,555.4 792.7,550.2 793.0,556.1 793.3,550.5 793.7,555.6 794.0,552.2 794.3,556.0 794.6,553.0 794.9,558.8 795.2,551.6 795.6,555.7 795.9,553.2 796.2,557.0 796.5,552.3 796.8,557.5 797.1,553.8 797.5,556.2 797.8,552.2 798.1,555.9 798.4,553.2 798.7,556.5 799.1,553.5 799.4,557.6 799.7,551.9 800.0,557.0 800.3,554.6 800.6,558.1 801.0,554.4 801.3,558.2 801.6,553.2 801.9,557.6 802.2,552.8 802.5,556.9 802.9,554.5 803.2,557.8 803.5,553.3 803.8,557.9 804.1,552.9 804.5,557.9 804.8,554.6 805.1,559.6 805.4,555.8 805.7,559.1 806.0,554.8 806.4,559.6 806.7,555.3 807.0,558.3 807.3,554.7 807.6,557.0 807.9,554.4 808.3,557.7 808.6,554.3 808.9,557.5 809.2,555.8 809.5,558.8 809.9,554.5 810.2,557.7 810.5,554.9 810.8,558.5 811.1,556.1 811.4,557.9 811.8,555.0 812.1,559.4 812.4,555.6 812.7,558.2 813.0,555.5 813.3,560.4 813.7,556.4 814.0,558.8 814.3,554.6 814.6,560.1 814.9,554.3 815.3,558.2 815.6,555.8 815.9,558.2 816.2,553.1 816.5,558.4 816.8,555.2 817.2,560.3 817.5,555.7 817.8,559.9 818.1,556.0 818.4,558.5 818.7,557.5 819.1,558.3 819.4,554.9 819.7,559.2 820.0,553.9 820.3,558.7 820.7,556.4 821.0,559.1 821.3,555.4 821.6,559.5 821.9,555.8 822.2,560.2 822.6,555.0 822.9,559.8 823.2,553.2 823.5,561.2 823.8,554.8 824.1,559.7 824.5,556.7 824.8,558.6 825.1,554.6 825.4,558.8 825.7,556.3 826.1,559.9 826.4,555.4 826.7,560.3 827.0,556.7 827.3,559.5 827.6,554.3 828.0,560.0 828.3,555.7 828.6,558.7 828.9,557.0 829.2,559.0 829.5,557.0 829.9,559.6 830.2,555.8 830.5,559.8 830.8,555.1 831.1,559.1 831.5,553.9 831.8,561.1 832.1,556.6 832.4,559.3 832.7,556.0 833.0,560.0 833.4,555.1 833.7,559.2 834.0,556.3 834.3,559.0 834.6,556.6 834.9,560.3 835.3,555.3 835.6,561.3 835.9,553.4 836.2,561.0 836.5,557.2 836.9,560.1 837.2,557.7 837.5,559.2 837.8,557.6 838.1,561.8 838.4,557.4 838.8,559.9 839.1,556.9 839.4,561.0 839.7,556.9 840.0,558.9 840.3,557.0 840.7,560.0 841.0,556.8 841.3,559.4 841.6,555.1 841.9,562.1 842.3,557.5 842.6,560.0 842.9,556.8 843.2,559.1 843.5,557.7 843.8,561.0 844.2,555.6 844.5,559.7 844.8,554.9 845.1,559.3 845.4,556.2 845.7,559.8 846.1,556.1 846.4,558.7 846.7,557.0 847.0,560.9 847.3,555.2 847.7,562.0 848.0,557.4 848.3,559.9 848.6,555.4 848.9,559.6 849.2,554.3 849.6,558.8 849.9,557.6 850.2,562.1 850.5,557.6 850.8,560.6 851.1,556.4 851.5,562.2 851.8,558.1 852.1,560.0 852.4,556.1 852.7,560.9 853.1,557.2 853.4,559.0 853.7,556.7 854.0,560.0 854.3,557.0 854.6,560.0 855.0,558.1 855.3,560.6 855.6,556.8 855.9,561.7 856.2,557.5 856.5,559.6 856.9,555.5 857.2,560.0 857.5,557.6"/>
</g>
<g stroke="#000" stroke-width="1.6" fill="none" stroke-linecap="butt">
<path d="M95.6,586.1 V24.2 H858.2" stroke="#0a0a0a" stroke-linejoin="round"/>
<path d="M95,585.3 H857.5 V24" stroke="#2e2e2e" stroke-width="1.5" stroke-linejoin="round"/>
<line x1="84" y1="585.6" x2="95.5" y2="585.6"/><line x1="84" y1="481.6" x2="95.5" y2="481.6"/><line x1="84" y1="377.6" x2="95.5" y2="377.6"/><line x1="84" y1="273.6" x2="95.5" y2="273.6"/><line x1="84" y1="169.6" x2="95.5" y2="169.6"/><line x1="84" y1="65.6" x2="95.5" y2="65.6"/><line x1="89.5" y1="533.6" x2="95.5" y2="533.6"/><line x1="89.5" y1="429.6" x2="95.5" y2="429.6"/><line x1="89.5" y1="325.6" x2="95.5" y2="325.6"/><line x1="89.5" y1="221.6" x2="95.5" y2="221.6"/><line x1="89.5" y1="117.6" x2="95.5" y2="117.6"/><line x1="95.5" y1="585.3" x2="95.5" y2="596.6"/><line x1="190.8" y1="585.3" x2="190.8" y2="596.6"/><line x1="286.0" y1="585.3" x2="286.0" y2="596.6"/><line x1="381.2" y1="585.3" x2="381.2" y2="596.6"/><line x1="476.5" y1="585.3" x2="476.5" y2="596.6"/><line x1="571.8" y1="585.3" x2="571.8" y2="596.6"/><line x1="667.0" y1="585.3" x2="667.0" y2="596.6"/><line x1="762.2" y1="585.3" x2="762.2" y2="596.6"/><line x1="857.5" y1="585.3" x2="857.5" y2="596.6"/><line x1="143.1" y1="585.3" x2="143.1" y2="590.8"/><line x1="238.4" y1="585.3" x2="238.4" y2="590.8"/><line x1="333.6" y1="585.3" x2="333.6" y2="590.8"/><line x1="428.9" y1="585.3" x2="428.9" y2="590.8"/><line x1="524.1" y1="585.3" x2="524.1" y2="590.8"/><line x1="619.4" y1="585.3" x2="619.4" y2="590.8"/><line x1="714.6" y1="585.3" x2="714.6" y2="590.8"/><line x1="809.9" y1="585.3" x2="809.9" y2="590.8"/>
</g>
<g font-size="22.8">
<text x="18.6" y="72.9" textLength="33.1" lengthAdjust="spacingAndGlyphs">1.0</text><text x="18.4" y="175.1" textLength="33.1" lengthAdjust="spacingAndGlyphs">0.8</text><text x="18.4" y="274.7" textLength="33.1" lengthAdjust="spacingAndGlyphs">0.6</text><text x="18.4" y="378.9" textLength="33.1" lengthAdjust="spacingAndGlyphs">0.4</text><text x="18.4" y="484.6" textLength="33.1" lengthAdjust="spacingAndGlyphs">0.2</text><text x="18.4" y="588.9" textLength="33.1" lengthAdjust="spacingAndGlyphs">0.0</text>
<text x="78.2" y="628.0" textLength="26.4" lengthAdjust="spacingAndGlyphs">10</text><text x="168.2" y="628.0" textLength="26.4" lengthAdjust="spacingAndGlyphs">20</text><text x="262.8" y="628.0" textLength="26.4" lengthAdjust="spacingAndGlyphs">30</text><text x="357.0" y="628.0" textLength="26.4" lengthAdjust="spacingAndGlyphs">40</text><text x="451.2" y="628.0" textLength="26.4" lengthAdjust="spacingAndGlyphs">50</text><text x="557.0" y="628.0" textLength="26.4" lengthAdjust="spacingAndGlyphs">60</text><text x="646.3" y="628.0" textLength="26.4" lengthAdjust="spacingAndGlyphs">70</text><text x="746.4" y="628.0" textLength="26.4" lengthAdjust="spacingAndGlyphs">80</text><text x="840.1" y="628.0" textLength="26.4" lengthAdjust="spacingAndGlyphs">90</text>
</g>
<text x="377.6" y="669.9" font-size="21" textLength="193" lengthAdjust="spacingAndGlyphs">Position [<tspan font-size="13" dy="-7">o</tspan><tspan dy="7">2Theta]</tspan></text>
<rect x="527.2" y="126.1" width="223.7" height="113.1" fill="#fff" stroke="#333" stroke-width="1.5"/>
<g stroke-width="1.6">
<line x1="540" y1="148.3" x2="602" y2="148.3" stroke="#d08a96"/>
<line x1="540" y1="182.6" x2="602" y2="182.6" stroke="#9196da"/>
<line x1="540" y1="216" x2="602" y2="216" stroke="#8ede8e"/>
</g>
<g font-size="28.2" class="lg">
<text x="609.6" y="157.1" textLength="47.6" lengthAdjust="spacingAndGlyphs">vCF</text>
<text x="609.4" y="191.8" textLength="123.6" lengthAdjust="spacingAndGlyphs">rCF2down</text>
<text x="609.4" y="225.1" textLength="84" lengthAdjust="spacingAndGlyphs">rcF2up</text>
</g>
</svg>
</body></html>
